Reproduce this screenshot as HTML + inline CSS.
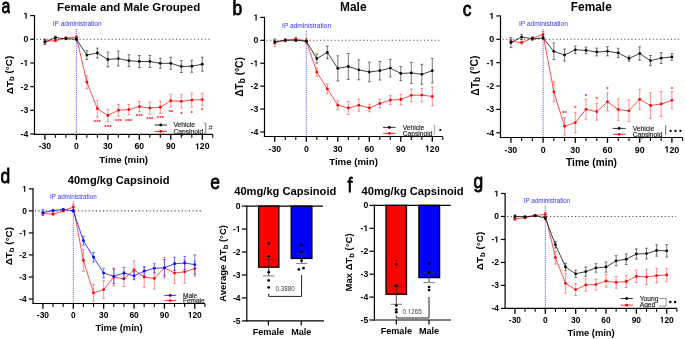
<!DOCTYPE html>
<html><head><meta charset="utf-8"><style>
html,body{margin:0;padding:0;background:#fff;}
svg{display:block;font-family:"Liberation Sans", sans-serif;will-change:transform;}
</style></head><body>
<svg width="685" height="339" viewBox="0 0 685 339">
<defs><clipPath id="clipA" clipPathUnits="userSpaceOnUse"><rect x="-5" y="-20" width="15.9" height="30"/></clipPath></defs>
<rect width="685" height="339" fill="#fff"/>
<line x1="36.5" y1="39.28" x2="210" y2="39.28" stroke="#444" stroke-width="1.05" stroke-dasharray="1.1 2.48"/>
<line x1="76.4" y1="28.8" x2="76.4" y2="134.45" stroke="#4646ff" stroke-width="0.85" stroke-dasharray="1.2 0.9"/>
<text x="52.7" y="25.9" font-size="6.6" font-weight="normal" text-anchor="start" fill="#3333ff">IP administration</text>
<line x1="34.5" y1="15.1" x2="34.5" y2="135.05" stroke="#000" stroke-width="1.2"/>
<line x1="33.9" y1="134.45" x2="212.8" y2="134.45" stroke="#000" stroke-width="1.2"/>
<line x1="30.3" y1="15.6" x2="34.5" y2="15.6" stroke="#000" stroke-width="1.2"/>
<text x="23.46" y="18.64" font-size="8.7" font-weight="bold" fill="#000">&#8199;</text>
<path transform="translate(23.46 18.64) scale(0.00425 -0.00425)" d="M478 0V1170L140 959V1180L493 1409H759V0Z" fill="#000"/>
<line x1="30.3" y1="39.28" x2="34.5" y2="39.28" stroke="#000" stroke-width="1.2"/>
<text x="23.46" y="42.33" font-size="8.7" font-weight="bold" fill="#000">0</text>
<line x1="30.3" y1="62.96" x2="34.5" y2="62.96" stroke="#000" stroke-width="1.2"/>
<text x="20.56" y="66" font-size="8.7" font-weight="bold" fill="#000">-&#8199;</text>
<path transform="translate(23.46 66) scale(0.00425 -0.00425)" d="M478 0V1170L140 959V1180L493 1409H759V0Z" fill="#000"/>
<line x1="30.3" y1="86.64" x2="34.5" y2="86.64" stroke="#000" stroke-width="1.2"/>
<text x="20.56" y="89.69" font-size="8.7" font-weight="bold" fill="#000">-2</text>
<line x1="30.3" y1="110.32" x2="34.5" y2="110.32" stroke="#000" stroke-width="1.2"/>
<text x="20.56" y="113.36" font-size="8.7" font-weight="bold" fill="#000">-3</text>
<line x1="30.3" y1="134" x2="34.5" y2="134" stroke="#000" stroke-width="1.2"/>
<text x="20.56" y="137.04" font-size="8.7" font-weight="bold" fill="#000">-4</text>
<line x1="44.93" y1="134.45" x2="44.93" y2="139.75" stroke="#000" stroke-width="1.3"/>
<text x="38.64" y="149.45" font-size="8.7" font-weight="bold" fill="#000">-30</text>
<line x1="55.42" y1="134.45" x2="55.42" y2="137.85" stroke="#000" stroke-width="1.1"/>
<line x1="65.91" y1="134.45" x2="65.91" y2="137.85" stroke="#000" stroke-width="1.1"/>
<line x1="76.4" y1="134.45" x2="76.4" y2="139.75" stroke="#000" stroke-width="1.3"/>
<text x="73.98" y="149.45" font-size="8.7" font-weight="bold" fill="#000">0</text>
<line x1="86.89" y1="134.45" x2="86.89" y2="137.85" stroke="#000" stroke-width="1.1"/>
<line x1="97.38" y1="134.45" x2="97.38" y2="137.85" stroke="#000" stroke-width="1.1"/>
<line x1="107.87" y1="134.45" x2="107.87" y2="139.75" stroke="#000" stroke-width="1.3"/>
<text x="103.03" y="149.45" font-size="8.7" font-weight="bold" fill="#000">30</text>
<line x1="118.36" y1="134.45" x2="118.36" y2="137.85" stroke="#000" stroke-width="1.1"/>
<line x1="128.85" y1="134.45" x2="128.85" y2="137.85" stroke="#000" stroke-width="1.1"/>
<line x1="139.34" y1="134.45" x2="139.34" y2="139.75" stroke="#000" stroke-width="1.3"/>
<text x="134.5" y="149.45" font-size="8.7" font-weight="bold" fill="#000">60</text>
<line x1="149.83" y1="134.45" x2="149.83" y2="137.85" stroke="#000" stroke-width="1.1"/>
<line x1="160.32" y1="134.45" x2="160.32" y2="137.85" stroke="#000" stroke-width="1.1"/>
<line x1="170.81" y1="134.45" x2="170.81" y2="139.75" stroke="#000" stroke-width="1.3"/>
<text x="165.97" y="149.45" font-size="8.7" font-weight="bold" fill="#000">90</text>
<line x1="181.3" y1="134.45" x2="181.3" y2="137.85" stroke="#000" stroke-width="1.1"/>
<line x1="191.79" y1="134.45" x2="191.79" y2="137.85" stroke="#000" stroke-width="1.1"/>
<line x1="202.28" y1="134.45" x2="202.28" y2="139.75" stroke="#000" stroke-width="1.3"/>
<text x="195.02" y="149.45" font-size="8.7" font-weight="bold" fill="#000">&#8199;20</text>
<path transform="translate(195.02 149.45) scale(0.00425 -0.00425)" d="M478 0V1170L140 959V1180L493 1409H759V0Z" fill="#000"/>
<line x1="212.77" y1="134.45" x2="212.77" y2="137.85" stroke="#000" stroke-width="1.1"/>
<text x="123.65" y="162.95" font-size="9.7" font-weight="bold" text-anchor="middle" fill="#000">Time (min)</text>
<text transform="translate(12.5 75.02) rotate(-90)" x="0" y="0" font-size="9.9" font-weight="bold" text-anchor="middle">&#916;T<tspan font-size="0.8em" dy="0.2em">b</tspan><tspan dy="-0.2em"> (&#176;C)</tspan></text>
<text x="128.7" y="10.9" font-size="11.5" font-weight="bold" text-anchor="middle" fill="#000">Female and Male Grouped</text>
<polyline points="44.93,41.4 55.42,40.6 65.91,38 76.4,37.2 86.89,82.2 97.38,108.7 107.87,115.5 118.36,110.2 128.85,109.6 139.34,106.6 149.83,108.1 160.32,107.2 170.81,100.7 181.3,101.3 191.79,100.1 202.28,99.6" fill="none" stroke="#ff0000" stroke-width="0.7"/>
<line x1="44.93" y1="39.4" x2="44.93" y2="43.4" stroke="#ff0000" stroke-width="0.7" stroke-opacity="0.62"/>
<line x1="43.53" y1="39.4" x2="46.33" y2="39.4" stroke="#ff0000" stroke-width="0.7" stroke-opacity="0.62"/>
<line x1="43.53" y1="43.4" x2="46.33" y2="43.4" stroke="#ff0000" stroke-width="0.7" stroke-opacity="0.62"/>
<line x1="55.42" y1="39.6" x2="55.42" y2="41.6" stroke="#ff0000" stroke-width="0.7" stroke-opacity="0.62"/>
<line x1="54.02" y1="39.6" x2="56.82" y2="39.6" stroke="#ff0000" stroke-width="0.7" stroke-opacity="0.62"/>
<line x1="54.02" y1="41.6" x2="56.82" y2="41.6" stroke="#ff0000" stroke-width="0.7" stroke-opacity="0.62"/>
<line x1="65.91" y1="37" x2="65.91" y2="39" stroke="#ff0000" stroke-width="0.7" stroke-opacity="0.62"/>
<line x1="64.51" y1="37" x2="67.31" y2="37" stroke="#ff0000" stroke-width="0.7" stroke-opacity="0.62"/>
<line x1="64.51" y1="39" x2="67.31" y2="39" stroke="#ff0000" stroke-width="0.7" stroke-opacity="0.62"/>
<line x1="76.4" y1="35.7" x2="76.4" y2="38.7" stroke="#ff0000" stroke-width="0.7" stroke-opacity="0.62"/>
<line x1="75" y1="35.7" x2="77.8" y2="35.7" stroke="#ff0000" stroke-width="0.7" stroke-opacity="0.62"/>
<line x1="75" y1="38.7" x2="77.8" y2="38.7" stroke="#ff0000" stroke-width="0.7" stroke-opacity="0.62"/>
<line x1="86.89" y1="75.6" x2="86.89" y2="88.8" stroke="#ff0000" stroke-width="0.7" stroke-opacity="0.62"/>
<line x1="85.49" y1="75.6" x2="88.29" y2="75.6" stroke="#ff0000" stroke-width="0.7" stroke-opacity="0.62"/>
<line x1="85.49" y1="88.8" x2="88.29" y2="88.8" stroke="#ff0000" stroke-width="0.7" stroke-opacity="0.62"/>
<line x1="97.38" y1="100.3" x2="97.38" y2="117.1" stroke="#ff0000" stroke-width="0.7" stroke-opacity="0.62"/>
<line x1="95.98" y1="100.3" x2="98.78" y2="100.3" stroke="#ff0000" stroke-width="0.7" stroke-opacity="0.62"/>
<line x1="95.98" y1="117.1" x2="98.78" y2="117.1" stroke="#ff0000" stroke-width="0.7" stroke-opacity="0.62"/>
<line x1="107.87" y1="109.6" x2="107.87" y2="121.4" stroke="#ff0000" stroke-width="0.7" stroke-opacity="0.62"/>
<line x1="106.47" y1="109.6" x2="109.27" y2="109.6" stroke="#ff0000" stroke-width="0.7" stroke-opacity="0.62"/>
<line x1="106.47" y1="121.4" x2="109.27" y2="121.4" stroke="#ff0000" stroke-width="0.7" stroke-opacity="0.62"/>
<line x1="118.36" y1="104.3" x2="118.36" y2="116.1" stroke="#ff0000" stroke-width="0.7" stroke-opacity="0.62"/>
<line x1="116.96" y1="104.3" x2="119.76" y2="104.3" stroke="#ff0000" stroke-width="0.7" stroke-opacity="0.62"/>
<line x1="116.96" y1="116.1" x2="119.76" y2="116.1" stroke="#ff0000" stroke-width="0.7" stroke-opacity="0.62"/>
<line x1="128.85" y1="104.4" x2="128.85" y2="114.8" stroke="#ff0000" stroke-width="0.7" stroke-opacity="0.62"/>
<line x1="127.45" y1="104.4" x2="130.25" y2="104.4" stroke="#ff0000" stroke-width="0.7" stroke-opacity="0.62"/>
<line x1="127.45" y1="114.8" x2="130.25" y2="114.8" stroke="#ff0000" stroke-width="0.7" stroke-opacity="0.62"/>
<line x1="139.34" y1="101.4" x2="139.34" y2="111.8" stroke="#ff0000" stroke-width="0.7" stroke-opacity="0.62"/>
<line x1="137.94" y1="101.4" x2="140.74" y2="101.4" stroke="#ff0000" stroke-width="0.7" stroke-opacity="0.62"/>
<line x1="137.94" y1="111.8" x2="140.74" y2="111.8" stroke="#ff0000" stroke-width="0.7" stroke-opacity="0.62"/>
<line x1="149.83" y1="101.9" x2="149.83" y2="114.3" stroke="#ff0000" stroke-width="0.7" stroke-opacity="0.62"/>
<line x1="148.43" y1="101.9" x2="151.23" y2="101.9" stroke="#ff0000" stroke-width="0.7" stroke-opacity="0.62"/>
<line x1="148.43" y1="114.3" x2="151.23" y2="114.3" stroke="#ff0000" stroke-width="0.7" stroke-opacity="0.62"/>
<line x1="160.32" y1="101" x2="160.32" y2="113.4" stroke="#ff0000" stroke-width="0.7" stroke-opacity="0.62"/>
<line x1="158.92" y1="101" x2="161.72" y2="101" stroke="#ff0000" stroke-width="0.7" stroke-opacity="0.62"/>
<line x1="158.92" y1="113.4" x2="161.72" y2="113.4" stroke="#ff0000" stroke-width="0.7" stroke-opacity="0.62"/>
<line x1="170.81" y1="94.2" x2="170.81" y2="107.2" stroke="#ff0000" stroke-width="0.7" stroke-opacity="0.62"/>
<line x1="169.41" y1="94.2" x2="172.21" y2="94.2" stroke="#ff0000" stroke-width="0.7" stroke-opacity="0.62"/>
<line x1="169.41" y1="107.2" x2="172.21" y2="107.2" stroke="#ff0000" stroke-width="0.7" stroke-opacity="0.62"/>
<line x1="181.3" y1="94.7" x2="181.3" y2="107.9" stroke="#ff0000" stroke-width="0.7" stroke-opacity="0.62"/>
<line x1="179.9" y1="94.7" x2="182.7" y2="94.7" stroke="#ff0000" stroke-width="0.7" stroke-opacity="0.62"/>
<line x1="179.9" y1="107.9" x2="182.7" y2="107.9" stroke="#ff0000" stroke-width="0.7" stroke-opacity="0.62"/>
<line x1="191.79" y1="93.1" x2="191.79" y2="107.1" stroke="#ff0000" stroke-width="0.7" stroke-opacity="0.62"/>
<line x1="190.39" y1="93.1" x2="193.19" y2="93.1" stroke="#ff0000" stroke-width="0.7" stroke-opacity="0.62"/>
<line x1="190.39" y1="107.1" x2="193.19" y2="107.1" stroke="#ff0000" stroke-width="0.7" stroke-opacity="0.62"/>
<line x1="202.28" y1="93.3" x2="202.28" y2="105.9" stroke="#ff0000" stroke-width="0.7" stroke-opacity="0.62"/>
<line x1="200.88" y1="93.3" x2="203.68" y2="93.3" stroke="#ff0000" stroke-width="0.7" stroke-opacity="0.62"/>
<line x1="200.88" y1="105.9" x2="203.68" y2="105.9" stroke="#ff0000" stroke-width="0.7" stroke-opacity="0.62"/>
<circle cx="44.93" cy="41.4" r="1.4" fill="#ff0000"/>
<circle cx="55.42" cy="40.6" r="1.4" fill="#ff0000"/>
<circle cx="65.91" cy="38" r="1.4" fill="#ff0000"/>
<circle cx="76.4" cy="37.2" r="1.4" fill="#ff0000"/>
<circle cx="86.89" cy="82.2" r="1.4" fill="#ff0000"/>
<circle cx="97.38" cy="108.7" r="1.4" fill="#ff0000"/>
<circle cx="107.87" cy="115.5" r="1.4" fill="#ff0000"/>
<circle cx="118.36" cy="110.2" r="1.4" fill="#ff0000"/>
<circle cx="128.85" cy="109.6" r="1.4" fill="#ff0000"/>
<circle cx="139.34" cy="106.6" r="1.4" fill="#ff0000"/>
<circle cx="149.83" cy="108.1" r="1.4" fill="#ff0000"/>
<circle cx="160.32" cy="107.2" r="1.4" fill="#ff0000"/>
<circle cx="170.81" cy="100.7" r="1.4" fill="#ff0000"/>
<circle cx="181.3" cy="101.3" r="1.4" fill="#ff0000"/>
<circle cx="191.79" cy="100.1" r="1.4" fill="#ff0000"/>
<circle cx="202.28" cy="99.6" r="1.4" fill="#ff0000"/>
<text x="97.38" y="124.1" font-size="6" font-weight="bold" text-anchor="middle" fill="#ff0000">***</text>
<text x="107.87" y="128.6" font-size="6" font-weight="bold" text-anchor="middle" fill="#ff0000">***</text>
<text x="118.36" y="123.1" font-size="6" font-weight="bold" text-anchor="middle" fill="#ff0000">***</text>
<text x="128.85" y="123.1" font-size="6" font-weight="bold" text-anchor="middle" fill="#ff0000">***</text>
<text x="139.34" y="118.1" font-size="6" font-weight="bold" text-anchor="middle" fill="#ff0000">***</text>
<text x="149.83" y="121.1" font-size="6" font-weight="bold" text-anchor="middle" fill="#ff0000">***</text>
<text x="160.32" y="120.1" font-size="6" font-weight="bold" text-anchor="middle" fill="#ff0000">***</text>
<text x="170.81" y="113.6" font-size="6" font-weight="bold" text-anchor="middle" fill="#ff0000">**</text>
<text x="181.3" y="115.6" font-size="6" font-weight="bold" text-anchor="middle" fill="#ff0000">*</text>
<text x="191.79" y="115.1" font-size="6" font-weight="bold" text-anchor="middle" fill="#ff0000">*</text>
<text x="202.28" y="112.1" font-size="6" font-weight="bold" text-anchor="middle" fill="#ff0000">*</text>
<polyline points="44.93,41.9 55.42,37.7 65.91,38.7 76.4,39.3 86.89,55.05 97.38,53 107.87,59.5 118.36,58.6 128.85,60.65 139.34,61.5 149.83,61.5 160.32,63.3 170.81,63.3 181.3,66.5 191.79,66.25 202.28,64.2" fill="none" stroke="#000" stroke-width="0.75"/>
<line x1="44.93" y1="39.3" x2="44.93" y2="44.5" stroke="#000" stroke-width="0.7" stroke-opacity="0.75"/>
<line x1="43.53" y1="39.3" x2="46.33" y2="39.3" stroke="#000" stroke-width="0.7" stroke-opacity="0.75"/>
<line x1="43.53" y1="44.5" x2="46.33" y2="44.5" stroke="#000" stroke-width="0.7" stroke-opacity="0.75"/>
<line x1="55.42" y1="36.2" x2="55.42" y2="39.2" stroke="#000" stroke-width="0.7" stroke-opacity="0.75"/>
<line x1="54.02" y1="36.2" x2="56.82" y2="36.2" stroke="#000" stroke-width="0.7" stroke-opacity="0.75"/>
<line x1="54.02" y1="39.2" x2="56.82" y2="39.2" stroke="#000" stroke-width="0.7" stroke-opacity="0.75"/>
<line x1="65.91" y1="37.7" x2="65.91" y2="39.7" stroke="#000" stroke-width="0.7" stroke-opacity="0.75"/>
<line x1="64.51" y1="37.7" x2="67.31" y2="37.7" stroke="#000" stroke-width="0.7" stroke-opacity="0.75"/>
<line x1="64.51" y1="39.7" x2="67.31" y2="39.7" stroke="#000" stroke-width="0.7" stroke-opacity="0.75"/>
<line x1="76.4" y1="38.3" x2="76.4" y2="40.3" stroke="#000" stroke-width="0.7" stroke-opacity="0.75"/>
<line x1="75" y1="38.3" x2="77.8" y2="38.3" stroke="#000" stroke-width="0.7" stroke-opacity="0.75"/>
<line x1="75" y1="40.3" x2="77.8" y2="40.3" stroke="#000" stroke-width="0.7" stroke-opacity="0.75"/>
<line x1="86.89" y1="50.65" x2="86.89" y2="59.45" stroke="#000" stroke-width="0.7" stroke-opacity="0.75"/>
<line x1="85.49" y1="50.65" x2="88.29" y2="50.65" stroke="#000" stroke-width="0.7" stroke-opacity="0.75"/>
<line x1="85.49" y1="59.45" x2="88.29" y2="59.45" stroke="#000" stroke-width="0.7" stroke-opacity="0.75"/>
<line x1="97.38" y1="48.1" x2="97.38" y2="57.9" stroke="#000" stroke-width="0.7" stroke-opacity="0.75"/>
<line x1="95.98" y1="48.1" x2="98.78" y2="48.1" stroke="#000" stroke-width="0.7" stroke-opacity="0.75"/>
<line x1="95.98" y1="57.9" x2="98.78" y2="57.9" stroke="#000" stroke-width="0.7" stroke-opacity="0.75"/>
<line x1="107.87" y1="52.1" x2="107.87" y2="66.9" stroke="#000" stroke-width="0.7" stroke-opacity="0.75"/>
<line x1="106.47" y1="52.1" x2="109.27" y2="52.1" stroke="#000" stroke-width="0.7" stroke-opacity="0.75"/>
<line x1="106.47" y1="66.9" x2="109.27" y2="66.9" stroke="#000" stroke-width="0.7" stroke-opacity="0.75"/>
<line x1="118.36" y1="51.2" x2="118.36" y2="66" stroke="#000" stroke-width="0.7" stroke-opacity="0.75"/>
<line x1="116.96" y1="51.2" x2="119.76" y2="51.2" stroke="#000" stroke-width="0.7" stroke-opacity="0.75"/>
<line x1="116.96" y1="66" x2="119.76" y2="66" stroke="#000" stroke-width="0.7" stroke-opacity="0.75"/>
<line x1="128.85" y1="54.65" x2="128.85" y2="66.65" stroke="#000" stroke-width="0.7" stroke-opacity="0.75"/>
<line x1="127.45" y1="54.65" x2="130.25" y2="54.65" stroke="#000" stroke-width="0.7" stroke-opacity="0.75"/>
<line x1="127.45" y1="66.65" x2="130.25" y2="66.65" stroke="#000" stroke-width="0.7" stroke-opacity="0.75"/>
<line x1="139.34" y1="55.5" x2="139.34" y2="67.5" stroke="#000" stroke-width="0.7" stroke-opacity="0.75"/>
<line x1="137.94" y1="55.5" x2="140.74" y2="55.5" stroke="#000" stroke-width="0.7" stroke-opacity="0.75"/>
<line x1="137.94" y1="67.5" x2="140.74" y2="67.5" stroke="#000" stroke-width="0.7" stroke-opacity="0.75"/>
<line x1="149.83" y1="55.5" x2="149.83" y2="67.5" stroke="#000" stroke-width="0.7" stroke-opacity="0.75"/>
<line x1="148.43" y1="55.5" x2="151.23" y2="55.5" stroke="#000" stroke-width="0.7" stroke-opacity="0.75"/>
<line x1="148.43" y1="67.5" x2="151.23" y2="67.5" stroke="#000" stroke-width="0.7" stroke-opacity="0.75"/>
<line x1="160.32" y1="58.3" x2="160.32" y2="68.3" stroke="#000" stroke-width="0.7" stroke-opacity="0.75"/>
<line x1="158.92" y1="58.3" x2="161.72" y2="58.3" stroke="#000" stroke-width="0.7" stroke-opacity="0.75"/>
<line x1="158.92" y1="68.3" x2="161.72" y2="68.3" stroke="#000" stroke-width="0.7" stroke-opacity="0.75"/>
<line x1="170.81" y1="57.3" x2="170.81" y2="69.3" stroke="#000" stroke-width="0.7" stroke-opacity="0.75"/>
<line x1="169.41" y1="57.3" x2="172.21" y2="57.3" stroke="#000" stroke-width="0.7" stroke-opacity="0.75"/>
<line x1="169.41" y1="69.3" x2="172.21" y2="69.3" stroke="#000" stroke-width="0.7" stroke-opacity="0.75"/>
<line x1="181.3" y1="60.5" x2="181.3" y2="72.5" stroke="#000" stroke-width="0.7" stroke-opacity="0.75"/>
<line x1="179.9" y1="60.5" x2="182.7" y2="60.5" stroke="#000" stroke-width="0.7" stroke-opacity="0.75"/>
<line x1="179.9" y1="72.5" x2="182.7" y2="72.5" stroke="#000" stroke-width="0.7" stroke-opacity="0.75"/>
<line x1="191.79" y1="60.25" x2="191.79" y2="72.25" stroke="#000" stroke-width="0.7" stroke-opacity="0.75"/>
<line x1="190.39" y1="60.25" x2="193.19" y2="60.25" stroke="#000" stroke-width="0.7" stroke-opacity="0.75"/>
<line x1="190.39" y1="72.25" x2="193.19" y2="72.25" stroke="#000" stroke-width="0.7" stroke-opacity="0.75"/>
<line x1="202.28" y1="57.2" x2="202.28" y2="71.2" stroke="#000" stroke-width="0.7" stroke-opacity="0.75"/>
<line x1="200.88" y1="57.2" x2="203.68" y2="57.2" stroke="#000" stroke-width="0.7" stroke-opacity="0.75"/>
<line x1="200.88" y1="71.2" x2="203.68" y2="71.2" stroke="#000" stroke-width="0.7" stroke-opacity="0.75"/>
<circle cx="44.93" cy="41.9" r="1.4" fill="#000"/>
<circle cx="55.42" cy="37.7" r="1.4" fill="#000"/>
<circle cx="65.91" cy="38.7" r="1.4" fill="#000"/>
<circle cx="76.4" cy="39.3" r="1.4" fill="#000"/>
<circle cx="86.89" cy="55.05" r="1.4" fill="#000"/>
<circle cx="97.38" cy="53" r="1.4" fill="#000"/>
<circle cx="107.87" cy="59.5" r="1.4" fill="#000"/>
<circle cx="118.36" cy="58.6" r="1.4" fill="#000"/>
<circle cx="128.85" cy="60.65" r="1.4" fill="#000"/>
<circle cx="139.34" cy="61.5" r="1.4" fill="#000"/>
<circle cx="149.83" cy="61.5" r="1.4" fill="#000"/>
<circle cx="160.32" cy="63.3" r="1.4" fill="#000"/>
<circle cx="170.81" cy="63.3" r="1.4" fill="#000"/>
<circle cx="181.3" cy="66.5" r="1.4" fill="#000"/>
<circle cx="191.79" cy="66.25" r="1.4" fill="#000"/>
<circle cx="202.28" cy="64.2" r="1.4" fill="#000"/>
<line x1="154.5" y1="125" x2="167" y2="125" stroke="#000" stroke-width="0.8"/>
<circle cx="160.75" cy="125" r="1.4" fill="#000"/>
<text x="173.5" y="127.2" font-size="6.7" font-weight="normal" text-anchor="start" fill="#1a1a1a" stroke="#1a1a1a" stroke-width="0.15">Vehicle</text>
<line x1="154.5" y1="131.4" x2="167" y2="131.4" stroke="#ff0000" stroke-width="0.8"/>
<circle cx="160.75" cy="131.4" r="1.4" fill="#ff0000"/>
<text x="173.5" y="133.6" font-size="6.7" font-weight="normal" text-anchor="start" fill="#1a1a1a" stroke="#1a1a1a" stroke-width="0.15">Capsinoid</text>
<path d="M204.2 123.3 H205.8 V132.7 H204.2" fill="none" stroke="#555" stroke-width="0.8"/><text x="208.5" y="130.2" font-size="7.6" fill="#333">#</text>
<line x1="266.5" y1="40.32" x2="440" y2="40.32" stroke="#444" stroke-width="1.05" stroke-dasharray="1.1 2.48"/>
<line x1="306.3" y1="31" x2="306.3" y2="136.5" stroke="#4646ff" stroke-width="0.85" stroke-dasharray="1.2 0.9"/>
<text x="282.1" y="28.1" font-size="6.6" font-weight="normal" text-anchor="start" fill="#3333ff">IP administration</text>
<line x1="264.5" y1="16.9" x2="264.5" y2="137.1" stroke="#000" stroke-width="1.2"/>
<line x1="263.9" y1="136.5" x2="442.6" y2="136.5" stroke="#000" stroke-width="1.2"/>
<line x1="260.3" y1="17.4" x2="264.5" y2="17.4" stroke="#000" stroke-width="1.2"/>
<text x="253.46" y="20.44" font-size="8.7" font-weight="bold" fill="#000">&#8199;</text>
<path transform="translate(253.46 20.44) scale(0.00425 -0.00425)" d="M478 0V1170L140 959V1180L493 1409H759V0Z" fill="#000"/>
<line x1="260.3" y1="40.32" x2="264.5" y2="40.32" stroke="#000" stroke-width="1.2"/>
<text x="253.46" y="43.37" font-size="8.7" font-weight="bold" fill="#000">0</text>
<line x1="260.3" y1="63.24" x2="264.5" y2="63.24" stroke="#000" stroke-width="1.2"/>
<text x="250.56" y="66.28" font-size="8.7" font-weight="bold" fill="#000">-&#8199;</text>
<path transform="translate(253.46 66.28) scale(0.00425 -0.00425)" d="M478 0V1170L140 959V1180L493 1409H759V0Z" fill="#000"/>
<line x1="260.3" y1="86.16" x2="264.5" y2="86.16" stroke="#000" stroke-width="1.2"/>
<text x="250.56" y="89.2" font-size="8.7" font-weight="bold" fill="#000">-2</text>
<line x1="260.3" y1="109.08" x2="264.5" y2="109.08" stroke="#000" stroke-width="1.2"/>
<text x="250.56" y="112.13" font-size="8.7" font-weight="bold" fill="#000">-3</text>
<line x1="260.3" y1="132" x2="264.5" y2="132" stroke="#000" stroke-width="1.2"/>
<text x="250.56" y="135.04" font-size="8.7" font-weight="bold" fill="#000">-4</text>
<line x1="274.8" y1="136.5" x2="274.8" y2="141.8" stroke="#000" stroke-width="1.3"/>
<text x="268.51" y="151.5" font-size="8.7" font-weight="bold" fill="#000">-30</text>
<line x1="285.3" y1="136.5" x2="285.3" y2="139.9" stroke="#000" stroke-width="1.1"/>
<line x1="295.8" y1="136.5" x2="295.8" y2="139.9" stroke="#000" stroke-width="1.1"/>
<line x1="306.3" y1="136.5" x2="306.3" y2="141.8" stroke="#000" stroke-width="1.3"/>
<text x="303.88" y="151.5" font-size="8.7" font-weight="bold" fill="#000">0</text>
<line x1="316.8" y1="136.5" x2="316.8" y2="139.9" stroke="#000" stroke-width="1.1"/>
<line x1="327.3" y1="136.5" x2="327.3" y2="139.9" stroke="#000" stroke-width="1.1"/>
<line x1="337.8" y1="136.5" x2="337.8" y2="141.8" stroke="#000" stroke-width="1.3"/>
<text x="332.96" y="151.5" font-size="8.7" font-weight="bold" fill="#000">30</text>
<line x1="348.3" y1="136.5" x2="348.3" y2="139.9" stroke="#000" stroke-width="1.1"/>
<line x1="358.8" y1="136.5" x2="358.8" y2="139.9" stroke="#000" stroke-width="1.1"/>
<line x1="369.3" y1="136.5" x2="369.3" y2="141.8" stroke="#000" stroke-width="1.3"/>
<text x="364.46" y="151.5" font-size="8.7" font-weight="bold" fill="#000">60</text>
<line x1="379.8" y1="136.5" x2="379.8" y2="139.9" stroke="#000" stroke-width="1.1"/>
<line x1="390.3" y1="136.5" x2="390.3" y2="139.9" stroke="#000" stroke-width="1.1"/>
<line x1="400.8" y1="136.5" x2="400.8" y2="141.8" stroke="#000" stroke-width="1.3"/>
<text x="395.96" y="151.5" font-size="8.7" font-weight="bold" fill="#000">90</text>
<line x1="411.3" y1="136.5" x2="411.3" y2="139.9" stroke="#000" stroke-width="1.1"/>
<line x1="421.8" y1="136.5" x2="421.8" y2="139.9" stroke="#000" stroke-width="1.1"/>
<line x1="432.3" y1="136.5" x2="432.3" y2="141.8" stroke="#000" stroke-width="1.3"/>
<text x="425.04" y="151.5" font-size="8.7" font-weight="bold" fill="#000">&#8199;20</text>
<path transform="translate(425.04 151.5) scale(0.00425 -0.00425)" d="M478 0V1170L140 959V1180L493 1409H759V0Z" fill="#000"/>
<line x1="442.8" y1="136.5" x2="442.8" y2="139.9" stroke="#000" stroke-width="1.1"/>
<text x="353.55" y="165" font-size="9.7" font-weight="bold" text-anchor="middle" fill="#000">Time (min)</text>
<text transform="translate(243.2 76.95) rotate(-90)" x="0" y="0" font-size="10.2" font-weight="bold" text-anchor="middle">&#916;T<tspan font-size="0.8em" dy="0.2em">b</tspan><tspan dy="-0.2em"> (&#176;C)</tspan></text>
<text x="353.3" y="10.8" font-size="11.9" font-weight="bold" text-anchor="middle" fill="#000">Male</text>
<polyline points="274.8,42.5 285.3,40.5 295.8,39 306.3,40.9 316.8,72.1 327.3,88.9 337.8,105.2 348.3,108 358.8,105.2 369.3,108 379.8,103.5 390.3,100.1 400.8,99.5 411.3,95.3 421.8,95.1 432.3,96.5" fill="none" stroke="#ff0000" stroke-width="0.7"/>
<line x1="274.8" y1="38.8" x2="274.8" y2="46.2" stroke="#ff0000" stroke-width="0.7" stroke-opacity="0.62"/>
<line x1="273.4" y1="38.8" x2="276.2" y2="38.8" stroke="#ff0000" stroke-width="0.7" stroke-opacity="0.62"/>
<line x1="273.4" y1="46.2" x2="276.2" y2="46.2" stroke="#ff0000" stroke-width="0.7" stroke-opacity="0.62"/>
<line x1="285.3" y1="39" x2="285.3" y2="42" stroke="#ff0000" stroke-width="0.7" stroke-opacity="0.62"/>
<line x1="283.9" y1="39" x2="286.7" y2="39" stroke="#ff0000" stroke-width="0.7" stroke-opacity="0.62"/>
<line x1="283.9" y1="42" x2="286.7" y2="42" stroke="#ff0000" stroke-width="0.7" stroke-opacity="0.62"/>
<line x1="295.8" y1="37" x2="295.8" y2="41" stroke="#ff0000" stroke-width="0.7" stroke-opacity="0.62"/>
<line x1="294.4" y1="37" x2="297.2" y2="37" stroke="#ff0000" stroke-width="0.7" stroke-opacity="0.62"/>
<line x1="294.4" y1="41" x2="297.2" y2="41" stroke="#ff0000" stroke-width="0.7" stroke-opacity="0.62"/>
<line x1="306.3" y1="38.4" x2="306.3" y2="43.4" stroke="#ff0000" stroke-width="0.7" stroke-opacity="0.62"/>
<line x1="304.9" y1="38.4" x2="307.7" y2="38.4" stroke="#ff0000" stroke-width="0.7" stroke-opacity="0.62"/>
<line x1="304.9" y1="43.4" x2="307.7" y2="43.4" stroke="#ff0000" stroke-width="0.7" stroke-opacity="0.62"/>
<line x1="316.8" y1="67.9" x2="316.8" y2="76.3" stroke="#ff0000" stroke-width="0.7" stroke-opacity="0.62"/>
<line x1="315.4" y1="67.9" x2="318.2" y2="67.9" stroke="#ff0000" stroke-width="0.7" stroke-opacity="0.62"/>
<line x1="315.4" y1="76.3" x2="318.2" y2="76.3" stroke="#ff0000" stroke-width="0.7" stroke-opacity="0.62"/>
<line x1="327.3" y1="83.9" x2="327.3" y2="93.9" stroke="#ff0000" stroke-width="0.7" stroke-opacity="0.62"/>
<line x1="325.9" y1="83.9" x2="328.7" y2="83.9" stroke="#ff0000" stroke-width="0.7" stroke-opacity="0.62"/>
<line x1="325.9" y1="93.9" x2="328.7" y2="93.9" stroke="#ff0000" stroke-width="0.7" stroke-opacity="0.62"/>
<line x1="337.8" y1="100.6" x2="337.8" y2="109.8" stroke="#ff0000" stroke-width="0.7" stroke-opacity="0.62"/>
<line x1="336.4" y1="100.6" x2="339.2" y2="100.6" stroke="#ff0000" stroke-width="0.7" stroke-opacity="0.62"/>
<line x1="336.4" y1="109.8" x2="339.2" y2="109.8" stroke="#ff0000" stroke-width="0.7" stroke-opacity="0.62"/>
<line x1="348.3" y1="101.4" x2="348.3" y2="114.6" stroke="#ff0000" stroke-width="0.7" stroke-opacity="0.62"/>
<line x1="346.9" y1="101.4" x2="349.7" y2="101.4" stroke="#ff0000" stroke-width="0.7" stroke-opacity="0.62"/>
<line x1="346.9" y1="114.6" x2="349.7" y2="114.6" stroke="#ff0000" stroke-width="0.7" stroke-opacity="0.62"/>
<line x1="358.8" y1="99.2" x2="358.8" y2="111.2" stroke="#ff0000" stroke-width="0.7" stroke-opacity="0.62"/>
<line x1="357.4" y1="99.2" x2="360.2" y2="99.2" stroke="#ff0000" stroke-width="0.7" stroke-opacity="0.62"/>
<line x1="357.4" y1="111.2" x2="360.2" y2="111.2" stroke="#ff0000" stroke-width="0.7" stroke-opacity="0.62"/>
<line x1="369.3" y1="104.2" x2="369.3" y2="111.8" stroke="#ff0000" stroke-width="0.7" stroke-opacity="0.62"/>
<line x1="367.9" y1="104.2" x2="370.7" y2="104.2" stroke="#ff0000" stroke-width="0.7" stroke-opacity="0.62"/>
<line x1="367.9" y1="111.8" x2="370.7" y2="111.8" stroke="#ff0000" stroke-width="0.7" stroke-opacity="0.62"/>
<line x1="379.8" y1="99.2" x2="379.8" y2="107.8" stroke="#ff0000" stroke-width="0.7" stroke-opacity="0.62"/>
<line x1="378.4" y1="99.2" x2="381.2" y2="99.2" stroke="#ff0000" stroke-width="0.7" stroke-opacity="0.62"/>
<line x1="378.4" y1="107.8" x2="381.2" y2="107.8" stroke="#ff0000" stroke-width="0.7" stroke-opacity="0.62"/>
<line x1="390.3" y1="95.6" x2="390.3" y2="104.6" stroke="#ff0000" stroke-width="0.7" stroke-opacity="0.62"/>
<line x1="388.9" y1="95.6" x2="391.7" y2="95.6" stroke="#ff0000" stroke-width="0.7" stroke-opacity="0.62"/>
<line x1="388.9" y1="104.6" x2="391.7" y2="104.6" stroke="#ff0000" stroke-width="0.7" stroke-opacity="0.62"/>
<line x1="400.8" y1="94.2" x2="400.8" y2="104.8" stroke="#ff0000" stroke-width="0.7" stroke-opacity="0.62"/>
<line x1="399.4" y1="94.2" x2="402.2" y2="94.2" stroke="#ff0000" stroke-width="0.7" stroke-opacity="0.62"/>
<line x1="399.4" y1="104.8" x2="402.2" y2="104.8" stroke="#ff0000" stroke-width="0.7" stroke-opacity="0.62"/>
<line x1="411.3" y1="89" x2="411.3" y2="101.6" stroke="#ff0000" stroke-width="0.7" stroke-opacity="0.62"/>
<line x1="409.9" y1="89" x2="412.7" y2="89" stroke="#ff0000" stroke-width="0.7" stroke-opacity="0.62"/>
<line x1="409.9" y1="101.6" x2="412.7" y2="101.6" stroke="#ff0000" stroke-width="0.7" stroke-opacity="0.62"/>
<line x1="421.8" y1="88.4" x2="421.8" y2="101.8" stroke="#ff0000" stroke-width="0.7" stroke-opacity="0.62"/>
<line x1="420.4" y1="88.4" x2="423.2" y2="88.4" stroke="#ff0000" stroke-width="0.7" stroke-opacity="0.62"/>
<line x1="420.4" y1="101.8" x2="423.2" y2="101.8" stroke="#ff0000" stroke-width="0.7" stroke-opacity="0.62"/>
<line x1="432.3" y1="87.1" x2="432.3" y2="105.9" stroke="#ff0000" stroke-width="0.7" stroke-opacity="0.62"/>
<line x1="430.9" y1="87.1" x2="433.7" y2="87.1" stroke="#ff0000" stroke-width="0.7" stroke-opacity="0.62"/>
<line x1="430.9" y1="105.9" x2="433.7" y2="105.9" stroke="#ff0000" stroke-width="0.7" stroke-opacity="0.62"/>
<circle cx="274.8" cy="42.5" r="1.4" fill="#ff0000"/>
<circle cx="285.3" cy="40.5" r="1.4" fill="#ff0000"/>
<circle cx="295.8" cy="39" r="1.4" fill="#ff0000"/>
<circle cx="306.3" cy="40.9" r="1.4" fill="#ff0000"/>
<circle cx="316.8" cy="72.1" r="1.4" fill="#ff0000"/>
<circle cx="327.3" cy="88.9" r="1.4" fill="#ff0000"/>
<circle cx="337.8" cy="105.2" r="1.4" fill="#ff0000"/>
<circle cx="348.3" cy="108" r="1.4" fill="#ff0000"/>
<circle cx="358.8" cy="105.2" r="1.4" fill="#ff0000"/>
<circle cx="369.3" cy="108" r="1.4" fill="#ff0000"/>
<circle cx="379.8" cy="103.5" r="1.4" fill="#ff0000"/>
<circle cx="390.3" cy="100.1" r="1.4" fill="#ff0000"/>
<circle cx="400.8" cy="99.5" r="1.4" fill="#ff0000"/>
<circle cx="411.3" cy="95.3" r="1.4" fill="#ff0000"/>
<circle cx="421.8" cy="95.1" r="1.4" fill="#ff0000"/>
<circle cx="432.3" cy="96.5" r="1.4" fill="#ff0000"/>
<polyline points="274.8,41.9 285.3,40.1 295.8,40.3 306.3,41.2 316.8,58.6 327.3,52.4 337.8,68.4 348.3,66.5 358.8,69.8 369.3,72 379.8,70.7 390.3,68.1 400.8,73.5 411.3,72.9 421.8,74.3 432.3,70.7" fill="none" stroke="#000" stroke-width="0.75"/>
<line x1="274.8" y1="39.9" x2="274.8" y2="43.9" stroke="#000" stroke-width="0.7" stroke-opacity="0.75"/>
<line x1="273.4" y1="39.9" x2="276.2" y2="39.9" stroke="#000" stroke-width="0.7" stroke-opacity="0.75"/>
<line x1="273.4" y1="43.9" x2="276.2" y2="43.9" stroke="#000" stroke-width="0.7" stroke-opacity="0.75"/>
<line x1="285.3" y1="39.1" x2="285.3" y2="41.1" stroke="#000" stroke-width="0.7" stroke-opacity="0.75"/>
<line x1="283.9" y1="39.1" x2="286.7" y2="39.1" stroke="#000" stroke-width="0.7" stroke-opacity="0.75"/>
<line x1="283.9" y1="41.1" x2="286.7" y2="41.1" stroke="#000" stroke-width="0.7" stroke-opacity="0.75"/>
<line x1="295.8" y1="39.3" x2="295.8" y2="41.3" stroke="#000" stroke-width="0.7" stroke-opacity="0.75"/>
<line x1="294.4" y1="39.3" x2="297.2" y2="39.3" stroke="#000" stroke-width="0.7" stroke-opacity="0.75"/>
<line x1="294.4" y1="41.3" x2="297.2" y2="41.3" stroke="#000" stroke-width="0.7" stroke-opacity="0.75"/>
<line x1="306.3" y1="40.2" x2="306.3" y2="42.2" stroke="#000" stroke-width="0.7" stroke-opacity="0.75"/>
<line x1="304.9" y1="40.2" x2="307.7" y2="40.2" stroke="#000" stroke-width="0.7" stroke-opacity="0.75"/>
<line x1="304.9" y1="42.2" x2="307.7" y2="42.2" stroke="#000" stroke-width="0.7" stroke-opacity="0.75"/>
<line x1="316.8" y1="54" x2="316.8" y2="63.2" stroke="#000" stroke-width="0.7" stroke-opacity="0.75"/>
<line x1="315.4" y1="54" x2="318.2" y2="54" stroke="#000" stroke-width="0.7" stroke-opacity="0.75"/>
<line x1="315.4" y1="63.2" x2="318.2" y2="63.2" stroke="#000" stroke-width="0.7" stroke-opacity="0.75"/>
<line x1="327.3" y1="46.1" x2="327.3" y2="58.7" stroke="#000" stroke-width="0.7" stroke-opacity="0.75"/>
<line x1="325.9" y1="46.1" x2="328.7" y2="46.1" stroke="#000" stroke-width="0.7" stroke-opacity="0.75"/>
<line x1="325.9" y1="58.7" x2="328.7" y2="58.7" stroke="#000" stroke-width="0.7" stroke-opacity="0.75"/>
<line x1="337.8" y1="55.8" x2="337.8" y2="81" stroke="#000" stroke-width="0.7" stroke-opacity="0.75"/>
<line x1="336.4" y1="55.8" x2="339.2" y2="55.8" stroke="#000" stroke-width="0.7" stroke-opacity="0.75"/>
<line x1="336.4" y1="81" x2="339.2" y2="81" stroke="#000" stroke-width="0.7" stroke-opacity="0.75"/>
<line x1="348.3" y1="53.5" x2="348.3" y2="79.5" stroke="#000" stroke-width="0.7" stroke-opacity="0.75"/>
<line x1="346.9" y1="53.5" x2="349.7" y2="53.5" stroke="#000" stroke-width="0.7" stroke-opacity="0.75"/>
<line x1="346.9" y1="79.5" x2="349.7" y2="79.5" stroke="#000" stroke-width="0.7" stroke-opacity="0.75"/>
<line x1="358.8" y1="59.8" x2="358.8" y2="79.8" stroke="#000" stroke-width="0.7" stroke-opacity="0.75"/>
<line x1="357.4" y1="59.8" x2="360.2" y2="59.8" stroke="#000" stroke-width="0.7" stroke-opacity="0.75"/>
<line x1="357.4" y1="79.8" x2="360.2" y2="79.8" stroke="#000" stroke-width="0.7" stroke-opacity="0.75"/>
<line x1="369.3" y1="62.2" x2="369.3" y2="81.8" stroke="#000" stroke-width="0.7" stroke-opacity="0.75"/>
<line x1="367.9" y1="62.2" x2="370.7" y2="62.2" stroke="#000" stroke-width="0.7" stroke-opacity="0.75"/>
<line x1="367.9" y1="81.8" x2="370.7" y2="81.8" stroke="#000" stroke-width="0.7" stroke-opacity="0.75"/>
<line x1="379.8" y1="61.4" x2="379.8" y2="80" stroke="#000" stroke-width="0.7" stroke-opacity="0.75"/>
<line x1="378.4" y1="61.4" x2="381.2" y2="61.4" stroke="#000" stroke-width="0.7" stroke-opacity="0.75"/>
<line x1="378.4" y1="80" x2="381.2" y2="80" stroke="#000" stroke-width="0.7" stroke-opacity="0.75"/>
<line x1="390.3" y1="59.3" x2="390.3" y2="76.9" stroke="#000" stroke-width="0.7" stroke-opacity="0.75"/>
<line x1="388.9" y1="59.3" x2="391.7" y2="59.3" stroke="#000" stroke-width="0.7" stroke-opacity="0.75"/>
<line x1="388.9" y1="76.9" x2="391.7" y2="76.9" stroke="#000" stroke-width="0.7" stroke-opacity="0.75"/>
<line x1="400.8" y1="66.5" x2="400.8" y2="80.5" stroke="#000" stroke-width="0.7" stroke-opacity="0.75"/>
<line x1="399.4" y1="66.5" x2="402.2" y2="66.5" stroke="#000" stroke-width="0.7" stroke-opacity="0.75"/>
<line x1="399.4" y1="80.5" x2="402.2" y2="80.5" stroke="#000" stroke-width="0.7" stroke-opacity="0.75"/>
<line x1="411.3" y1="62.4" x2="411.3" y2="83.4" stroke="#000" stroke-width="0.7" stroke-opacity="0.75"/>
<line x1="409.9" y1="62.4" x2="412.7" y2="62.4" stroke="#000" stroke-width="0.7" stroke-opacity="0.75"/>
<line x1="409.9" y1="83.4" x2="412.7" y2="83.4" stroke="#000" stroke-width="0.7" stroke-opacity="0.75"/>
<line x1="421.8" y1="64.3" x2="421.8" y2="84.3" stroke="#000" stroke-width="0.7" stroke-opacity="0.75"/>
<line x1="420.4" y1="64.3" x2="423.2" y2="64.3" stroke="#000" stroke-width="0.7" stroke-opacity="0.75"/>
<line x1="420.4" y1="84.3" x2="423.2" y2="84.3" stroke="#000" stroke-width="0.7" stroke-opacity="0.75"/>
<line x1="432.3" y1="58.4" x2="432.3" y2="83" stroke="#000" stroke-width="0.7" stroke-opacity="0.75"/>
<line x1="430.9" y1="58.4" x2="433.7" y2="58.4" stroke="#000" stroke-width="0.7" stroke-opacity="0.75"/>
<line x1="430.9" y1="83" x2="433.7" y2="83" stroke="#000" stroke-width="0.7" stroke-opacity="0.75"/>
<circle cx="274.8" cy="41.9" r="1.4" fill="#000"/>
<circle cx="285.3" cy="40.1" r="1.4" fill="#000"/>
<circle cx="295.8" cy="40.3" r="1.4" fill="#000"/>
<circle cx="306.3" cy="41.2" r="1.4" fill="#000"/>
<circle cx="316.8" cy="58.6" r="1.4" fill="#000"/>
<circle cx="327.3" cy="52.4" r="1.4" fill="#000"/>
<circle cx="337.8" cy="68.4" r="1.4" fill="#000"/>
<circle cx="348.3" cy="66.5" r="1.4" fill="#000"/>
<circle cx="358.8" cy="69.8" r="1.4" fill="#000"/>
<circle cx="369.3" cy="72" r="1.4" fill="#000"/>
<circle cx="379.8" cy="70.7" r="1.4" fill="#000"/>
<circle cx="390.3" cy="68.1" r="1.4" fill="#000"/>
<circle cx="400.8" cy="73.5" r="1.4" fill="#000"/>
<circle cx="411.3" cy="72.9" r="1.4" fill="#000"/>
<circle cx="421.8" cy="74.3" r="1.4" fill="#000"/>
<circle cx="432.3" cy="70.7" r="1.4" fill="#000"/>
<line x1="383" y1="127.4" x2="395.6" y2="127.4" stroke="#000" stroke-width="0.8"/>
<circle cx="389.3" cy="127.4" r="1.4" fill="#000"/>
<text x="402.7" y="129.6" font-size="6.7" font-weight="normal" text-anchor="start" fill="#1a1a1a" stroke="#1a1a1a" stroke-width="0.15">Vehicle</text>
<line x1="383" y1="133.4" x2="395.6" y2="133.4" stroke="#ff0000" stroke-width="0.8"/>
<circle cx="389.3" cy="133.4" r="1.4" fill="#ff0000"/>
<text x="402.7" y="135.6" font-size="6.7" font-weight="normal" text-anchor="start" fill="#1a1a1a" stroke="#1a1a1a" stroke-width="0.15">Capsinoid</text>
<path d="M433.7 125.1 H434.7 V134.3 H433.7" fill="none" stroke="#999" stroke-width="0.9"/><circle cx="440.3" cy="130" r="1.1"/>
<line x1="502.5" y1="39.3" x2="681" y2="39.3" stroke="#444" stroke-width="1.05" stroke-dasharray="1.1 2.48"/>
<line x1="543.1" y1="29" x2="543.1" y2="137.5" stroke="#4646ff" stroke-width="0.85" stroke-dasharray="1.2 0.9"/>
<text x="518.9" y="26.1" font-size="6.6" font-weight="normal" text-anchor="start" fill="#3333ff">IP administration</text>
<line x1="500.5" y1="15.5" x2="500.5" y2="138.1" stroke="#000" stroke-width="1.2"/>
<line x1="499.9" y1="137.5" x2="682.6" y2="137.5" stroke="#000" stroke-width="1.2"/>
<line x1="496.3" y1="15.94" x2="500.5" y2="15.94" stroke="#000" stroke-width="1.2"/>
<text x="489.35" y="19.05" font-size="8.9" font-weight="bold" fill="#000">&#8199;</text>
<path transform="translate(489.35 19.05) scale(0.00435 -0.00435)" d="M478 0V1170L140 959V1180L493 1409H759V0Z" fill="#000"/>
<line x1="496.3" y1="39.3" x2="500.5" y2="39.3" stroke="#000" stroke-width="1.2"/>
<text x="489.35" y="42.41" font-size="8.9" font-weight="bold" fill="#000">0</text>
<line x1="496.3" y1="62.66" x2="500.5" y2="62.66" stroke="#000" stroke-width="1.2"/>
<text x="486.39" y="65.77" font-size="8.9" font-weight="bold" fill="#000">-&#8199;</text>
<path transform="translate(489.35 65.77) scale(0.00435 -0.00435)" d="M478 0V1170L140 959V1180L493 1409H759V0Z" fill="#000"/>
<line x1="496.3" y1="86.02" x2="500.5" y2="86.02" stroke="#000" stroke-width="1.2"/>
<text x="486.39" y="89.13" font-size="8.9" font-weight="bold" fill="#000">-2</text>
<line x1="496.3" y1="109.38" x2="500.5" y2="109.38" stroke="#000" stroke-width="1.2"/>
<text x="486.39" y="112.49" font-size="8.9" font-weight="bold" fill="#000">-3</text>
<line x1="496.3" y1="132.74" x2="500.5" y2="132.74" stroke="#000" stroke-width="1.2"/>
<text x="486.39" y="135.86" font-size="8.9" font-weight="bold" fill="#000">-4</text>
<line x1="510.9" y1="137.5" x2="510.9" y2="142.8" stroke="#000" stroke-width="1.3"/>
<text x="504.47" y="152.5" font-size="8.9" font-weight="bold" fill="#000">-30</text>
<line x1="521.63" y1="137.5" x2="521.63" y2="140.9" stroke="#000" stroke-width="1.1"/>
<line x1="532.37" y1="137.5" x2="532.37" y2="140.9" stroke="#000" stroke-width="1.1"/>
<line x1="543.1" y1="137.5" x2="543.1" y2="142.8" stroke="#000" stroke-width="1.3"/>
<text x="540.63" y="152.5" font-size="8.9" font-weight="bold" fill="#000">0</text>
<line x1="553.83" y1="137.5" x2="553.83" y2="140.9" stroke="#000" stroke-width="1.1"/>
<line x1="564.57" y1="137.5" x2="564.57" y2="140.9" stroke="#000" stroke-width="1.1"/>
<line x1="575.3" y1="137.5" x2="575.3" y2="142.8" stroke="#000" stroke-width="1.3"/>
<text x="570.35" y="152.5" font-size="8.9" font-weight="bold" fill="#000">30</text>
<line x1="586.03" y1="137.5" x2="586.03" y2="140.9" stroke="#000" stroke-width="1.1"/>
<line x1="596.76" y1="137.5" x2="596.76" y2="140.9" stroke="#000" stroke-width="1.1"/>
<line x1="607.5" y1="137.5" x2="607.5" y2="142.8" stroke="#000" stroke-width="1.3"/>
<text x="602.55" y="152.5" font-size="8.9" font-weight="bold" fill="#000">60</text>
<line x1="618.23" y1="137.5" x2="618.23" y2="140.9" stroke="#000" stroke-width="1.1"/>
<line x1="628.96" y1="137.5" x2="628.96" y2="140.9" stroke="#000" stroke-width="1.1"/>
<line x1="639.7" y1="137.5" x2="639.7" y2="142.8" stroke="#000" stroke-width="1.3"/>
<text x="634.75" y="152.5" font-size="8.9" font-weight="bold" fill="#000">90</text>
<line x1="650.43" y1="137.5" x2="650.43" y2="140.9" stroke="#000" stroke-width="1.1"/>
<line x1="661.16" y1="137.5" x2="661.16" y2="140.9" stroke="#000" stroke-width="1.1"/>
<line x1="671.9" y1="137.5" x2="671.9" y2="142.8" stroke="#000" stroke-width="1.3"/>
<text x="664.47" y="152.5" font-size="8.9" font-weight="bold" fill="#000">&#8199;20</text>
<path transform="translate(664.47 152.5) scale(0.00435 -0.00435)" d="M478 0V1170L140 959V1180L493 1409H759V0Z" fill="#000"/>
<line x1="682.63" y1="137.5" x2="682.63" y2="140.9" stroke="#000" stroke-width="1.1"/>
<text x="591.55" y="166" font-size="10.1" font-weight="bold" text-anchor="middle" fill="#000">Time (min)</text>
<text transform="translate(478.6 75.6) rotate(-90)" x="0" y="0" font-size="10.4" font-weight="bold" text-anchor="middle">&#916;T<tspan font-size="0.8em" dy="0.2em">b</tspan><tspan dy="-0.2em"> (&#176;C)</tspan></text>
<text x="591.3" y="10.9" font-size="11.9" font-weight="bold" text-anchor="middle" fill="#000">Female</text>
<polyline points="510.9,41.4 521.63,42.6 532.37,38.1 543.1,34.6 553.83,91.8 564.57,126.3 575.3,122.6 586.03,109.3 596.76,111.7 607.5,101.8 618.23,109.6 628.96,110.8 639.7,99.3 650.43,105.5 661.16,104 671.9,100.3" fill="none" stroke="#ff0000" stroke-width="0.7"/>
<line x1="510.9" y1="39.4" x2="510.9" y2="43.4" stroke="#ff0000" stroke-width="0.7" stroke-opacity="0.62"/>
<line x1="509.5" y1="39.4" x2="512.3" y2="39.4" stroke="#ff0000" stroke-width="0.7" stroke-opacity="0.62"/>
<line x1="509.5" y1="43.4" x2="512.3" y2="43.4" stroke="#ff0000" stroke-width="0.7" stroke-opacity="0.62"/>
<line x1="521.63" y1="41.1" x2="521.63" y2="44.1" stroke="#ff0000" stroke-width="0.7" stroke-opacity="0.62"/>
<line x1="520.23" y1="41.1" x2="523.03" y2="41.1" stroke="#ff0000" stroke-width="0.7" stroke-opacity="0.62"/>
<line x1="520.23" y1="44.1" x2="523.03" y2="44.1" stroke="#ff0000" stroke-width="0.7" stroke-opacity="0.62"/>
<line x1="532.37" y1="36.9" x2="532.37" y2="39.3" stroke="#ff0000" stroke-width="0.7" stroke-opacity="0.62"/>
<line x1="530.97" y1="36.9" x2="533.77" y2="36.9" stroke="#ff0000" stroke-width="0.7" stroke-opacity="0.62"/>
<line x1="530.97" y1="39.3" x2="533.77" y2="39.3" stroke="#ff0000" stroke-width="0.7" stroke-opacity="0.62"/>
<line x1="543.1" y1="31.6" x2="543.1" y2="37.6" stroke="#ff0000" stroke-width="0.7" stroke-opacity="0.62"/>
<line x1="541.7" y1="31.6" x2="544.5" y2="31.6" stroke="#ff0000" stroke-width="0.7" stroke-opacity="0.62"/>
<line x1="541.7" y1="37.6" x2="544.5" y2="37.6" stroke="#ff0000" stroke-width="0.7" stroke-opacity="0.62"/>
<line x1="553.83" y1="81.8" x2="553.83" y2="101.8" stroke="#ff0000" stroke-width="0.7" stroke-opacity="0.62"/>
<line x1="552.43" y1="81.8" x2="555.23" y2="81.8" stroke="#ff0000" stroke-width="0.7" stroke-opacity="0.62"/>
<line x1="552.43" y1="101.8" x2="555.23" y2="101.8" stroke="#ff0000" stroke-width="0.7" stroke-opacity="0.62"/>
<line x1="564.57" y1="117.5" x2="564.57" y2="135.1" stroke="#ff0000" stroke-width="0.7" stroke-opacity="0.62"/>
<line x1="563.17" y1="117.5" x2="565.97" y2="117.5" stroke="#ff0000" stroke-width="0.7" stroke-opacity="0.62"/>
<line x1="563.17" y1="135.1" x2="565.97" y2="135.1" stroke="#ff0000" stroke-width="0.7" stroke-opacity="0.62"/>
<line x1="575.3" y1="112.6" x2="575.3" y2="132.6" stroke="#ff0000" stroke-width="0.7" stroke-opacity="0.62"/>
<line x1="573.9" y1="112.6" x2="576.7" y2="112.6" stroke="#ff0000" stroke-width="0.7" stroke-opacity="0.62"/>
<line x1="573.9" y1="132.6" x2="576.7" y2="132.6" stroke="#ff0000" stroke-width="0.7" stroke-opacity="0.62"/>
<line x1="586.03" y1="99.3" x2="586.03" y2="119.3" stroke="#ff0000" stroke-width="0.7" stroke-opacity="0.62"/>
<line x1="584.63" y1="99.3" x2="587.43" y2="99.3" stroke="#ff0000" stroke-width="0.7" stroke-opacity="0.62"/>
<line x1="584.63" y1="119.3" x2="587.43" y2="119.3" stroke="#ff0000" stroke-width="0.7" stroke-opacity="0.62"/>
<line x1="596.76" y1="103.2" x2="596.76" y2="120.2" stroke="#ff0000" stroke-width="0.7" stroke-opacity="0.62"/>
<line x1="595.37" y1="103.2" x2="598.16" y2="103.2" stroke="#ff0000" stroke-width="0.7" stroke-opacity="0.62"/>
<line x1="595.37" y1="120.2" x2="598.16" y2="120.2" stroke="#ff0000" stroke-width="0.7" stroke-opacity="0.62"/>
<line x1="607.5" y1="92.8" x2="607.5" y2="110.8" stroke="#ff0000" stroke-width="0.7" stroke-opacity="0.62"/>
<line x1="606.1" y1="92.8" x2="608.9" y2="92.8" stroke="#ff0000" stroke-width="0.7" stroke-opacity="0.62"/>
<line x1="606.1" y1="110.8" x2="608.9" y2="110.8" stroke="#ff0000" stroke-width="0.7" stroke-opacity="0.62"/>
<line x1="618.23" y1="98.8" x2="618.23" y2="120.4" stroke="#ff0000" stroke-width="0.7" stroke-opacity="0.62"/>
<line x1="616.83" y1="98.8" x2="619.63" y2="98.8" stroke="#ff0000" stroke-width="0.7" stroke-opacity="0.62"/>
<line x1="616.83" y1="120.4" x2="619.63" y2="120.4" stroke="#ff0000" stroke-width="0.7" stroke-opacity="0.62"/>
<line x1="628.96" y1="100" x2="628.96" y2="121.6" stroke="#ff0000" stroke-width="0.7" stroke-opacity="0.62"/>
<line x1="627.56" y1="100" x2="630.36" y2="100" stroke="#ff0000" stroke-width="0.7" stroke-opacity="0.62"/>
<line x1="627.56" y1="121.6" x2="630.36" y2="121.6" stroke="#ff0000" stroke-width="0.7" stroke-opacity="0.62"/>
<line x1="639.7" y1="89.3" x2="639.7" y2="109.3" stroke="#ff0000" stroke-width="0.7" stroke-opacity="0.62"/>
<line x1="638.3" y1="89.3" x2="641.1" y2="89.3" stroke="#ff0000" stroke-width="0.7" stroke-opacity="0.62"/>
<line x1="638.3" y1="109.3" x2="641.1" y2="109.3" stroke="#ff0000" stroke-width="0.7" stroke-opacity="0.62"/>
<line x1="650.43" y1="92.7" x2="650.43" y2="118.3" stroke="#ff0000" stroke-width="0.7" stroke-opacity="0.62"/>
<line x1="649.03" y1="92.7" x2="651.83" y2="92.7" stroke="#ff0000" stroke-width="0.7" stroke-opacity="0.62"/>
<line x1="649.03" y1="118.3" x2="651.83" y2="118.3" stroke="#ff0000" stroke-width="0.7" stroke-opacity="0.62"/>
<line x1="661.16" y1="91.6" x2="661.16" y2="116.4" stroke="#ff0000" stroke-width="0.7" stroke-opacity="0.62"/>
<line x1="659.76" y1="91.6" x2="662.56" y2="91.6" stroke="#ff0000" stroke-width="0.7" stroke-opacity="0.62"/>
<line x1="659.76" y1="116.4" x2="662.56" y2="116.4" stroke="#ff0000" stroke-width="0.7" stroke-opacity="0.62"/>
<line x1="671.9" y1="91.8" x2="671.9" y2="108.8" stroke="#ff0000" stroke-width="0.7" stroke-opacity="0.62"/>
<line x1="670.5" y1="91.8" x2="673.3" y2="91.8" stroke="#ff0000" stroke-width="0.7" stroke-opacity="0.62"/>
<line x1="670.5" y1="108.8" x2="673.3" y2="108.8" stroke="#ff0000" stroke-width="0.7" stroke-opacity="0.62"/>
<circle cx="510.9" cy="41.4" r="1.4" fill="#ff0000"/>
<circle cx="521.63" cy="42.6" r="1.4" fill="#ff0000"/>
<circle cx="532.37" cy="38.1" r="1.4" fill="#ff0000"/>
<circle cx="543.1" cy="34.6" r="1.4" fill="#ff0000"/>
<circle cx="553.83" cy="91.8" r="1.4" fill="#ff0000"/>
<circle cx="564.57" cy="126.3" r="1.4" fill="#ff0000"/>
<circle cx="575.3" cy="122.6" r="1.4" fill="#ff0000"/>
<circle cx="586.03" cy="109.3" r="1.4" fill="#ff0000"/>
<circle cx="596.76" cy="111.7" r="1.4" fill="#ff0000"/>
<circle cx="607.5" cy="101.8" r="1.4" fill="#ff0000"/>
<circle cx="618.23" cy="109.6" r="1.4" fill="#ff0000"/>
<circle cx="628.96" cy="110.8" r="1.4" fill="#ff0000"/>
<circle cx="639.7" cy="99.3" r="1.4" fill="#ff0000"/>
<circle cx="650.43" cy="105.5" r="1.4" fill="#ff0000"/>
<circle cx="661.16" cy="104" r="1.4" fill="#ff0000"/>
<circle cx="671.9" cy="100.3" r="1.4" fill="#ff0000"/>
<text x="564.57" y="114.5" font-size="6" font-weight="bold" text-anchor="middle" fill="#ff0000">**</text>
<text x="575.3" y="110" font-size="6" font-weight="bold" text-anchor="middle" fill="#ff0000">*</text>
<text x="586.03" y="97.5" font-size="6" font-weight="bold" text-anchor="middle" fill="#ff0000">*</text>
<text x="596.76" y="100.5" font-size="6" font-weight="bold" text-anchor="middle" fill="#ff0000">*</text>
<text x="607.5" y="91" font-size="6" font-weight="bold" text-anchor="middle" fill="#ff0000">*</text>
<text x="671.9" y="91.3" font-size="6" font-weight="bold" text-anchor="middle" fill="#ff0000">*</text>
<polyline points="510.9,42.6 521.63,37.1 532.37,38.8 543.1,38 553.83,51.3 564.57,55 575.3,49.8 586.03,50.4 596.76,52 607.5,51.3 618.23,52.9 628.96,58.5 639.7,53.5 650.43,60.6 661.16,58.1 671.9,56.9" fill="none" stroke="#000" stroke-width="0.75"/>
<line x1="510.9" y1="37.6" x2="510.9" y2="47.6" stroke="#000" stroke-width="0.7" stroke-opacity="0.75"/>
<line x1="509.5" y1="37.6" x2="512.3" y2="37.6" stroke="#000" stroke-width="0.7" stroke-opacity="0.75"/>
<line x1="509.5" y1="47.6" x2="512.3" y2="47.6" stroke="#000" stroke-width="0.7" stroke-opacity="0.75"/>
<line x1="521.63" y1="34.6" x2="521.63" y2="39.6" stroke="#000" stroke-width="0.7" stroke-opacity="0.75"/>
<line x1="520.23" y1="34.6" x2="523.03" y2="34.6" stroke="#000" stroke-width="0.7" stroke-opacity="0.75"/>
<line x1="520.23" y1="39.6" x2="523.03" y2="39.6" stroke="#000" stroke-width="0.7" stroke-opacity="0.75"/>
<line x1="532.37" y1="37.3" x2="532.37" y2="40.3" stroke="#000" stroke-width="0.7" stroke-opacity="0.75"/>
<line x1="530.97" y1="37.3" x2="533.77" y2="37.3" stroke="#000" stroke-width="0.7" stroke-opacity="0.75"/>
<line x1="530.97" y1="40.3" x2="533.77" y2="40.3" stroke="#000" stroke-width="0.7" stroke-opacity="0.75"/>
<line x1="543.1" y1="37" x2="543.1" y2="39" stroke="#000" stroke-width="0.7" stroke-opacity="0.75"/>
<line x1="541.7" y1="37" x2="544.5" y2="37" stroke="#000" stroke-width="0.7" stroke-opacity="0.75"/>
<line x1="541.7" y1="39" x2="544.5" y2="39" stroke="#000" stroke-width="0.7" stroke-opacity="0.75"/>
<line x1="553.83" y1="42.9" x2="553.83" y2="59.7" stroke="#000" stroke-width="0.7" stroke-opacity="0.75"/>
<line x1="552.43" y1="42.9" x2="555.23" y2="42.9" stroke="#000" stroke-width="0.7" stroke-opacity="0.75"/>
<line x1="552.43" y1="59.7" x2="555.23" y2="59.7" stroke="#000" stroke-width="0.7" stroke-opacity="0.75"/>
<line x1="564.57" y1="49" x2="564.57" y2="61" stroke="#000" stroke-width="0.7" stroke-opacity="0.75"/>
<line x1="563.17" y1="49" x2="565.97" y2="49" stroke="#000" stroke-width="0.7" stroke-opacity="0.75"/>
<line x1="563.17" y1="61" x2="565.97" y2="61" stroke="#000" stroke-width="0.7" stroke-opacity="0.75"/>
<line x1="575.3" y1="46.1" x2="575.3" y2="53.5" stroke="#000" stroke-width="0.7" stroke-opacity="0.75"/>
<line x1="573.9" y1="46.1" x2="576.7" y2="46.1" stroke="#000" stroke-width="0.7" stroke-opacity="0.75"/>
<line x1="573.9" y1="53.5" x2="576.7" y2="53.5" stroke="#000" stroke-width="0.7" stroke-opacity="0.75"/>
<line x1="586.03" y1="47.1" x2="586.03" y2="53.7" stroke="#000" stroke-width="0.7" stroke-opacity="0.75"/>
<line x1="584.63" y1="47.1" x2="587.43" y2="47.1" stroke="#000" stroke-width="0.7" stroke-opacity="0.75"/>
<line x1="584.63" y1="53.7" x2="587.43" y2="53.7" stroke="#000" stroke-width="0.7" stroke-opacity="0.75"/>
<line x1="596.76" y1="48.1" x2="596.76" y2="55.9" stroke="#000" stroke-width="0.7" stroke-opacity="0.75"/>
<line x1="595.37" y1="48.1" x2="598.16" y2="48.1" stroke="#000" stroke-width="0.7" stroke-opacity="0.75"/>
<line x1="595.37" y1="55.9" x2="598.16" y2="55.9" stroke="#000" stroke-width="0.7" stroke-opacity="0.75"/>
<line x1="607.5" y1="46.7" x2="607.5" y2="55.9" stroke="#000" stroke-width="0.7" stroke-opacity="0.75"/>
<line x1="606.1" y1="46.7" x2="608.9" y2="46.7" stroke="#000" stroke-width="0.7" stroke-opacity="0.75"/>
<line x1="606.1" y1="55.9" x2="608.9" y2="55.9" stroke="#000" stroke-width="0.7" stroke-opacity="0.75"/>
<line x1="618.23" y1="48.3" x2="618.23" y2="57.5" stroke="#000" stroke-width="0.7" stroke-opacity="0.75"/>
<line x1="616.83" y1="48.3" x2="619.63" y2="48.3" stroke="#000" stroke-width="0.7" stroke-opacity="0.75"/>
<line x1="616.83" y1="57.5" x2="619.63" y2="57.5" stroke="#000" stroke-width="0.7" stroke-opacity="0.75"/>
<line x1="628.96" y1="55.9" x2="628.96" y2="61.1" stroke="#000" stroke-width="0.7" stroke-opacity="0.75"/>
<line x1="627.56" y1="55.9" x2="630.36" y2="55.9" stroke="#000" stroke-width="0.7" stroke-opacity="0.75"/>
<line x1="627.56" y1="61.1" x2="630.36" y2="61.1" stroke="#000" stroke-width="0.7" stroke-opacity="0.75"/>
<line x1="639.7" y1="46.8" x2="639.7" y2="60.2" stroke="#000" stroke-width="0.7" stroke-opacity="0.75"/>
<line x1="638.3" y1="46.8" x2="641.1" y2="46.8" stroke="#000" stroke-width="0.7" stroke-opacity="0.75"/>
<line x1="638.3" y1="60.2" x2="641.1" y2="60.2" stroke="#000" stroke-width="0.7" stroke-opacity="0.75"/>
<line x1="650.43" y1="55.5" x2="650.43" y2="65.7" stroke="#000" stroke-width="0.7" stroke-opacity="0.75"/>
<line x1="649.03" y1="55.5" x2="651.83" y2="55.5" stroke="#000" stroke-width="0.7" stroke-opacity="0.75"/>
<line x1="649.03" y1="65.7" x2="651.83" y2="65.7" stroke="#000" stroke-width="0.7" stroke-opacity="0.75"/>
<line x1="661.16" y1="52.7" x2="661.16" y2="63.5" stroke="#000" stroke-width="0.7" stroke-opacity="0.75"/>
<line x1="659.76" y1="52.7" x2="662.56" y2="52.7" stroke="#000" stroke-width="0.7" stroke-opacity="0.75"/>
<line x1="659.76" y1="63.5" x2="662.56" y2="63.5" stroke="#000" stroke-width="0.7" stroke-opacity="0.75"/>
<line x1="671.9" y1="53.5" x2="671.9" y2="60.3" stroke="#000" stroke-width="0.7" stroke-opacity="0.75"/>
<line x1="670.5" y1="53.5" x2="673.3" y2="53.5" stroke="#000" stroke-width="0.7" stroke-opacity="0.75"/>
<line x1="670.5" y1="60.3" x2="673.3" y2="60.3" stroke="#000" stroke-width="0.7" stroke-opacity="0.75"/>
<circle cx="510.9" cy="42.6" r="1.4" fill="#000"/>
<circle cx="521.63" cy="37.1" r="1.4" fill="#000"/>
<circle cx="532.37" cy="38.8" r="1.4" fill="#000"/>
<circle cx="543.1" cy="38" r="1.4" fill="#000"/>
<circle cx="553.83" cy="51.3" r="1.4" fill="#000"/>
<circle cx="564.57" cy="55" r="1.4" fill="#000"/>
<circle cx="575.3" cy="49.8" r="1.4" fill="#000"/>
<circle cx="586.03" cy="50.4" r="1.4" fill="#000"/>
<circle cx="596.76" cy="52" r="1.4" fill="#000"/>
<circle cx="607.5" cy="51.3" r="1.4" fill="#000"/>
<circle cx="618.23" cy="52.9" r="1.4" fill="#000"/>
<circle cx="628.96" cy="58.5" r="1.4" fill="#000"/>
<circle cx="639.7" cy="53.5" r="1.4" fill="#000"/>
<circle cx="650.43" cy="60.6" r="1.4" fill="#000"/>
<circle cx="661.16" cy="58.1" r="1.4" fill="#000"/>
<circle cx="671.9" cy="56.9" r="1.4" fill="#000"/>
<line x1="612.6" y1="128.4" x2="625.6" y2="128.4" stroke="#000" stroke-width="0.8"/>
<circle cx="619.1" cy="128.4" r="1.4" fill="#000"/>
<text x="632.7" y="130.6" font-size="6.7" font-weight="normal" text-anchor="start" fill="#1a1a1a" stroke="#1a1a1a" stroke-width="0.15">Vehicle</text>
<line x1="612.6" y1="134.3" x2="625.6" y2="134.3" stroke="#ff0000" stroke-width="0.8"/>
<circle cx="619.1" cy="134.3" r="1.4" fill="#ff0000"/>
<text x="632.7" y="136.5" font-size="6.7" font-weight="normal" text-anchor="start" fill="#1a1a1a" stroke="#1a1a1a" stroke-width="0.15">Capsinoid</text>
<path d="M665.7 125.2 V135.3" fill="none" stroke="#444" stroke-width="0.8"/><circle cx="670.6" cy="130.9" r="1.15"/><circle cx="675.5" cy="130.9" r="1.15"/><circle cx="680.4" cy="130.9" r="1.15"/>
<line x1="35" y1="210.88" x2="203" y2="210.88" stroke="#444" stroke-width="1.05" stroke-dasharray="1.1 2.48"/>
<line x1="73.3" y1="201.5" x2="73.3" y2="303.5" stroke="#4646ff" stroke-width="0.85" stroke-dasharray="1.2 0.9"/>
<text x="50.1" y="198.9" font-size="6.27" font-weight="normal" text-anchor="start" fill="#3333ff">IP administration</text>
<line x1="33" y1="188.35" x2="33" y2="304.1" stroke="#000" stroke-width="1.2"/>
<line x1="32.4" y1="303.5" x2="205" y2="303.5" stroke="#000" stroke-width="1.2"/>
<line x1="28.8" y1="188.85" x2="33" y2="188.85" stroke="#000" stroke-width="1.2"/>
<text x="22.13" y="191.79" font-size="8.4" font-weight="bold" fill="#000">&#8199;</text>
<path transform="translate(22.13 191.79) scale(0.00410 -0.00410)" d="M478 0V1170L140 959V1180L493 1409H759V0Z" fill="#000"/>
<line x1="28.8" y1="210.88" x2="33" y2="210.88" stroke="#000" stroke-width="1.2"/>
<text x="22.13" y="213.82" font-size="8.4" font-weight="bold" fill="#000">0</text>
<line x1="28.8" y1="232.91" x2="33" y2="232.91" stroke="#000" stroke-width="1.2"/>
<text x="19.33" y="235.85" font-size="8.4" font-weight="bold" fill="#000">-&#8199;</text>
<path transform="translate(22.13 235.85) scale(0.00410 -0.00410)" d="M478 0V1170L140 959V1180L493 1409H759V0Z" fill="#000"/>
<line x1="28.8" y1="254.94" x2="33" y2="254.94" stroke="#000" stroke-width="1.2"/>
<text x="19.33" y="257.88" font-size="8.4" font-weight="bold" fill="#000">-2</text>
<line x1="28.8" y1="276.97" x2="33" y2="276.97" stroke="#000" stroke-width="1.2"/>
<text x="19.33" y="279.91" font-size="8.4" font-weight="bold" fill="#000">-3</text>
<line x1="28.8" y1="299" x2="33" y2="299" stroke="#000" stroke-width="1.2"/>
<text x="19.33" y="301.94" font-size="8.4" font-weight="bold" fill="#000">-4</text>
<line x1="42.92" y1="303.5" x2="42.92" y2="308.8" stroke="#000" stroke-width="1.3"/>
<text x="36.85" y="317.8" font-size="8.4" font-weight="bold" fill="#000">-30</text>
<line x1="53.05" y1="303.5" x2="53.05" y2="306.9" stroke="#000" stroke-width="1.1"/>
<line x1="63.17" y1="303.5" x2="63.17" y2="306.9" stroke="#000" stroke-width="1.1"/>
<line x1="73.3" y1="303.5" x2="73.3" y2="308.8" stroke="#000" stroke-width="1.3"/>
<text x="70.96" y="317.8" font-size="8.4" font-weight="bold" fill="#000">0</text>
<line x1="83.42" y1="303.5" x2="83.42" y2="306.9" stroke="#000" stroke-width="1.1"/>
<line x1="93.55" y1="303.5" x2="93.55" y2="306.9" stroke="#000" stroke-width="1.1"/>
<line x1="103.67" y1="303.5" x2="103.67" y2="308.8" stroke="#000" stroke-width="1.3"/>
<text x="99" y="317.8" font-size="8.4" font-weight="bold" fill="#000">30</text>
<line x1="113.8" y1="303.5" x2="113.8" y2="306.9" stroke="#000" stroke-width="1.1"/>
<line x1="123.92" y1="303.5" x2="123.92" y2="306.9" stroke="#000" stroke-width="1.1"/>
<line x1="134.05" y1="303.5" x2="134.05" y2="308.8" stroke="#000" stroke-width="1.3"/>
<text x="129.38" y="317.8" font-size="8.4" font-weight="bold" fill="#000">60</text>
<line x1="144.18" y1="303.5" x2="144.18" y2="306.9" stroke="#000" stroke-width="1.1"/>
<line x1="154.3" y1="303.5" x2="154.3" y2="306.9" stroke="#000" stroke-width="1.1"/>
<line x1="164.43" y1="303.5" x2="164.43" y2="308.8" stroke="#000" stroke-width="1.3"/>
<text x="159.75" y="317.8" font-size="8.4" font-weight="bold" fill="#000">90</text>
<line x1="174.55" y1="303.5" x2="174.55" y2="306.9" stroke="#000" stroke-width="1.1"/>
<line x1="184.68" y1="303.5" x2="184.68" y2="306.9" stroke="#000" stroke-width="1.1"/>
<line x1="194.8" y1="303.5" x2="194.8" y2="308.8" stroke="#000" stroke-width="1.3"/>
<text x="187.79" y="317.8" font-size="8.4" font-weight="bold" fill="#000">&#8199;20</text>
<path transform="translate(187.79 317.8) scale(0.00410 -0.00410)" d="M478 0V1170L140 959V1180L493 1409H759V0Z" fill="#000"/>
<line x1="204.93" y1="303.5" x2="204.93" y2="306.9" stroke="#000" stroke-width="1.1"/>
<text x="119" y="331.1" font-size="9.4" font-weight="bold" text-anchor="middle" fill="#000">Time (min)</text>
<text transform="translate(12 246.18) rotate(-90)" x="0" y="0" font-size="9.9" font-weight="bold" text-anchor="middle">&#916;T<tspan font-size="0.8em" dy="0.2em">b</tspan><tspan dy="-0.2em"> (&#176;C)</tspan></text>
<text x="118.6" y="183.6" font-size="11.1" font-weight="bold" text-anchor="middle" fill="#000">40mg/kg Capsinoid</text>
<polyline points="42.92,213.4 53.05,214.1 63.17,210.9 73.3,207.1 83.42,260.4 93.55,293 103.67,289.6 113.8,277.1 123.92,278.9 134.05,269.9 144.18,277.1 154.3,278.4 164.43,267.8 174.55,273.1 184.68,271.8 194.8,268.6" fill="none" stroke="#ff0000" stroke-width="0.7"/>
<line x1="42.92" y1="211.9" x2="42.92" y2="214.9" stroke="#ff0000" stroke-width="0.7" stroke-opacity="0.62"/>
<line x1="41.52" y1="211.9" x2="44.32" y2="211.9" stroke="#ff0000" stroke-width="0.7" stroke-opacity="0.62"/>
<line x1="41.52" y1="214.9" x2="44.32" y2="214.9" stroke="#ff0000" stroke-width="0.7" stroke-opacity="0.62"/>
<line x1="53.05" y1="212.9" x2="53.05" y2="215.3" stroke="#ff0000" stroke-width="0.7" stroke-opacity="0.62"/>
<line x1="51.65" y1="212.9" x2="54.45" y2="212.9" stroke="#ff0000" stroke-width="0.7" stroke-opacity="0.62"/>
<line x1="51.65" y1="215.3" x2="54.45" y2="215.3" stroke="#ff0000" stroke-width="0.7" stroke-opacity="0.62"/>
<line x1="63.17" y1="209.9" x2="63.17" y2="211.9" stroke="#ff0000" stroke-width="0.7" stroke-opacity="0.62"/>
<line x1="61.77" y1="209.9" x2="64.58" y2="209.9" stroke="#ff0000" stroke-width="0.7" stroke-opacity="0.62"/>
<line x1="61.77" y1="211.9" x2="64.58" y2="211.9" stroke="#ff0000" stroke-width="0.7" stroke-opacity="0.62"/>
<line x1="73.3" y1="204.1" x2="73.3" y2="210.1" stroke="#ff0000" stroke-width="0.7" stroke-opacity="0.62"/>
<line x1="71.9" y1="204.1" x2="74.7" y2="204.1" stroke="#ff0000" stroke-width="0.7" stroke-opacity="0.62"/>
<line x1="71.9" y1="210.1" x2="74.7" y2="210.1" stroke="#ff0000" stroke-width="0.7" stroke-opacity="0.62"/>
<line x1="83.42" y1="249.4" x2="83.42" y2="271.4" stroke="#ff0000" stroke-width="0.7" stroke-opacity="0.62"/>
<line x1="82.02" y1="249.4" x2="84.83" y2="249.4" stroke="#ff0000" stroke-width="0.7" stroke-opacity="0.62"/>
<line x1="82.02" y1="271.4" x2="84.83" y2="271.4" stroke="#ff0000" stroke-width="0.7" stroke-opacity="0.62"/>
<line x1="93.55" y1="284.6" x2="93.55" y2="301.4" stroke="#ff0000" stroke-width="0.7" stroke-opacity="0.62"/>
<line x1="92.15" y1="284.6" x2="94.95" y2="284.6" stroke="#ff0000" stroke-width="0.7" stroke-opacity="0.62"/>
<line x1="92.15" y1="301.4" x2="94.95" y2="301.4" stroke="#ff0000" stroke-width="0.7" stroke-opacity="0.62"/>
<line x1="103.67" y1="280.7" x2="103.67" y2="298.5" stroke="#ff0000" stroke-width="0.7" stroke-opacity="0.62"/>
<line x1="102.27" y1="280.7" x2="105.08" y2="280.7" stroke="#ff0000" stroke-width="0.7" stroke-opacity="0.62"/>
<line x1="102.27" y1="298.5" x2="105.08" y2="298.5" stroke="#ff0000" stroke-width="0.7" stroke-opacity="0.62"/>
<line x1="113.8" y1="268.1" x2="113.8" y2="286.1" stroke="#ff0000" stroke-width="0.7" stroke-opacity="0.62"/>
<line x1="112.4" y1="268.1" x2="115.2" y2="268.1" stroke="#ff0000" stroke-width="0.7" stroke-opacity="0.62"/>
<line x1="112.4" y1="286.1" x2="115.2" y2="286.1" stroke="#ff0000" stroke-width="0.7" stroke-opacity="0.62"/>
<line x1="123.92" y1="271.3" x2="123.92" y2="286.5" stroke="#ff0000" stroke-width="0.7" stroke-opacity="0.62"/>
<line x1="122.52" y1="271.3" x2="125.33" y2="271.3" stroke="#ff0000" stroke-width="0.7" stroke-opacity="0.62"/>
<line x1="122.52" y1="286.5" x2="125.33" y2="286.5" stroke="#ff0000" stroke-width="0.7" stroke-opacity="0.62"/>
<line x1="134.05" y1="261" x2="134.05" y2="278.8" stroke="#ff0000" stroke-width="0.7" stroke-opacity="0.62"/>
<line x1="132.65" y1="261" x2="135.45" y2="261" stroke="#ff0000" stroke-width="0.7" stroke-opacity="0.62"/>
<line x1="132.65" y1="278.8" x2="135.45" y2="278.8" stroke="#ff0000" stroke-width="0.7" stroke-opacity="0.62"/>
<line x1="144.18" y1="266.9" x2="144.18" y2="287.3" stroke="#ff0000" stroke-width="0.7" stroke-opacity="0.62"/>
<line x1="142.78" y1="266.9" x2="145.58" y2="266.9" stroke="#ff0000" stroke-width="0.7" stroke-opacity="0.62"/>
<line x1="142.78" y1="287.3" x2="145.58" y2="287.3" stroke="#ff0000" stroke-width="0.7" stroke-opacity="0.62"/>
<line x1="154.3" y1="267.8" x2="154.3" y2="289" stroke="#ff0000" stroke-width="0.7" stroke-opacity="0.62"/>
<line x1="152.9" y1="267.8" x2="155.7" y2="267.8" stroke="#ff0000" stroke-width="0.7" stroke-opacity="0.62"/>
<line x1="152.9" y1="289" x2="155.7" y2="289" stroke="#ff0000" stroke-width="0.7" stroke-opacity="0.62"/>
<line x1="164.43" y1="257.4" x2="164.43" y2="278.2" stroke="#ff0000" stroke-width="0.7" stroke-opacity="0.62"/>
<line x1="163.03" y1="257.4" x2="165.83" y2="257.4" stroke="#ff0000" stroke-width="0.7" stroke-opacity="0.62"/>
<line x1="163.03" y1="278.2" x2="165.83" y2="278.2" stroke="#ff0000" stroke-width="0.7" stroke-opacity="0.62"/>
<line x1="174.55" y1="262.5" x2="174.55" y2="283.7" stroke="#ff0000" stroke-width="0.7" stroke-opacity="0.62"/>
<line x1="173.15" y1="262.5" x2="175.95" y2="262.5" stroke="#ff0000" stroke-width="0.7" stroke-opacity="0.62"/>
<line x1="173.15" y1="283.7" x2="175.95" y2="283.7" stroke="#ff0000" stroke-width="0.7" stroke-opacity="0.62"/>
<line x1="184.68" y1="260.3" x2="184.68" y2="283.3" stroke="#ff0000" stroke-width="0.7" stroke-opacity="0.62"/>
<line x1="183.28" y1="260.3" x2="186.08" y2="260.3" stroke="#ff0000" stroke-width="0.7" stroke-opacity="0.62"/>
<line x1="183.28" y1="283.3" x2="186.08" y2="283.3" stroke="#ff0000" stroke-width="0.7" stroke-opacity="0.62"/>
<line x1="194.8" y1="261" x2="194.8" y2="276.2" stroke="#ff0000" stroke-width="0.7" stroke-opacity="0.62"/>
<line x1="193.4" y1="261" x2="196.2" y2="261" stroke="#ff0000" stroke-width="0.7" stroke-opacity="0.62"/>
<line x1="193.4" y1="276.2" x2="196.2" y2="276.2" stroke="#ff0000" stroke-width="0.7" stroke-opacity="0.62"/>
<circle cx="42.92" cy="213.4" r="1.4" fill="#ff0000"/>
<circle cx="53.05" cy="214.1" r="1.4" fill="#ff0000"/>
<circle cx="63.17" cy="210.9" r="1.4" fill="#ff0000"/>
<circle cx="73.3" cy="207.1" r="1.4" fill="#ff0000"/>
<circle cx="83.42" cy="260.4" r="1.4" fill="#ff0000"/>
<circle cx="93.55" cy="293" r="1.4" fill="#ff0000"/>
<circle cx="103.67" cy="289.6" r="1.4" fill="#ff0000"/>
<circle cx="113.8" cy="277.1" r="1.4" fill="#ff0000"/>
<circle cx="123.92" cy="278.9" r="1.4" fill="#ff0000"/>
<circle cx="134.05" cy="269.9" r="1.4" fill="#ff0000"/>
<circle cx="144.18" cy="277.1" r="1.4" fill="#ff0000"/>
<circle cx="154.3" cy="278.4" r="1.4" fill="#ff0000"/>
<circle cx="164.43" cy="267.8" r="1.4" fill="#ff0000"/>
<circle cx="174.55" cy="273.1" r="1.4" fill="#ff0000"/>
<circle cx="184.68" cy="271.8" r="1.4" fill="#ff0000"/>
<circle cx="194.8" cy="268.6" r="1.4" fill="#ff0000"/>
<polyline points="42.92,212.6 53.05,210.6 63.17,209.4 73.3,210.9 83.42,240.7 93.55,257.2 103.67,273.1 113.8,276.3 123.92,273.1 134.05,275.8 144.18,271.2 154.3,268.3 164.43,267.8 174.55,263.8 184.68,263 194.8,264.6" fill="none" stroke="#0000ff" stroke-width="0.75"/>
<line x1="42.92" y1="209.6" x2="42.92" y2="215.6" stroke="#0000ff" stroke-width="0.7" stroke-opacity="0.75"/>
<line x1="41.52" y1="209.6" x2="44.32" y2="209.6" stroke="#0000ff" stroke-width="0.7" stroke-opacity="0.75"/>
<line x1="41.52" y1="215.6" x2="44.32" y2="215.6" stroke="#0000ff" stroke-width="0.7" stroke-opacity="0.75"/>
<line x1="53.05" y1="209.6" x2="53.05" y2="211.6" stroke="#0000ff" stroke-width="0.7" stroke-opacity="0.75"/>
<line x1="51.65" y1="209.6" x2="54.45" y2="209.6" stroke="#0000ff" stroke-width="0.7" stroke-opacity="0.75"/>
<line x1="51.65" y1="211.6" x2="54.45" y2="211.6" stroke="#0000ff" stroke-width="0.7" stroke-opacity="0.75"/>
<line x1="63.17" y1="208.4" x2="63.17" y2="210.4" stroke="#0000ff" stroke-width="0.7" stroke-opacity="0.75"/>
<line x1="61.77" y1="208.4" x2="64.58" y2="208.4" stroke="#0000ff" stroke-width="0.7" stroke-opacity="0.75"/>
<line x1="61.77" y1="210.4" x2="64.58" y2="210.4" stroke="#0000ff" stroke-width="0.7" stroke-opacity="0.75"/>
<line x1="73.3" y1="209.9" x2="73.3" y2="211.9" stroke="#0000ff" stroke-width="0.7" stroke-opacity="0.75"/>
<line x1="71.9" y1="209.9" x2="74.7" y2="209.9" stroke="#0000ff" stroke-width="0.7" stroke-opacity="0.75"/>
<line x1="71.9" y1="211.9" x2="74.7" y2="211.9" stroke="#0000ff" stroke-width="0.7" stroke-opacity="0.75"/>
<line x1="83.42" y1="236.3" x2="83.42" y2="245.1" stroke="#0000ff" stroke-width="0.7" stroke-opacity="0.75"/>
<line x1="82.02" y1="236.3" x2="84.83" y2="236.3" stroke="#0000ff" stroke-width="0.7" stroke-opacity="0.75"/>
<line x1="82.02" y1="245.1" x2="84.83" y2="245.1" stroke="#0000ff" stroke-width="0.7" stroke-opacity="0.75"/>
<line x1="93.55" y1="252.4" x2="93.55" y2="262" stroke="#0000ff" stroke-width="0.7" stroke-opacity="0.75"/>
<line x1="92.15" y1="252.4" x2="94.95" y2="252.4" stroke="#0000ff" stroke-width="0.7" stroke-opacity="0.75"/>
<line x1="92.15" y1="262" x2="94.95" y2="262" stroke="#0000ff" stroke-width="0.7" stroke-opacity="0.75"/>
<line x1="103.67" y1="268.3" x2="103.67" y2="277.9" stroke="#0000ff" stroke-width="0.7" stroke-opacity="0.75"/>
<line x1="102.27" y1="268.3" x2="105.08" y2="268.3" stroke="#0000ff" stroke-width="0.7" stroke-opacity="0.75"/>
<line x1="102.27" y1="277.9" x2="105.08" y2="277.9" stroke="#0000ff" stroke-width="0.7" stroke-opacity="0.75"/>
<line x1="113.8" y1="269" x2="113.8" y2="283.6" stroke="#0000ff" stroke-width="0.7" stroke-opacity="0.75"/>
<line x1="112.4" y1="269" x2="115.2" y2="269" stroke="#0000ff" stroke-width="0.7" stroke-opacity="0.75"/>
<line x1="112.4" y1="283.6" x2="115.2" y2="283.6" stroke="#0000ff" stroke-width="0.7" stroke-opacity="0.75"/>
<line x1="123.92" y1="267.3" x2="123.92" y2="278.9" stroke="#0000ff" stroke-width="0.7" stroke-opacity="0.75"/>
<line x1="122.52" y1="267.3" x2="125.33" y2="267.3" stroke="#0000ff" stroke-width="0.7" stroke-opacity="0.75"/>
<line x1="122.52" y1="278.9" x2="125.33" y2="278.9" stroke="#0000ff" stroke-width="0.7" stroke-opacity="0.75"/>
<line x1="134.05" y1="271.8" x2="134.05" y2="279.8" stroke="#0000ff" stroke-width="0.7" stroke-opacity="0.75"/>
<line x1="132.65" y1="271.8" x2="135.45" y2="271.8" stroke="#0000ff" stroke-width="0.7" stroke-opacity="0.75"/>
<line x1="132.65" y1="279.8" x2="135.45" y2="279.8" stroke="#0000ff" stroke-width="0.7" stroke-opacity="0.75"/>
<line x1="144.18" y1="266.8" x2="144.18" y2="275.6" stroke="#0000ff" stroke-width="0.7" stroke-opacity="0.75"/>
<line x1="142.78" y1="266.8" x2="145.58" y2="266.8" stroke="#0000ff" stroke-width="0.7" stroke-opacity="0.75"/>
<line x1="142.78" y1="275.6" x2="145.58" y2="275.6" stroke="#0000ff" stroke-width="0.7" stroke-opacity="0.75"/>
<line x1="154.3" y1="263.7" x2="154.3" y2="272.9" stroke="#0000ff" stroke-width="0.7" stroke-opacity="0.75"/>
<line x1="152.9" y1="263.7" x2="155.7" y2="263.7" stroke="#0000ff" stroke-width="0.7" stroke-opacity="0.75"/>
<line x1="152.9" y1="272.9" x2="155.7" y2="272.9" stroke="#0000ff" stroke-width="0.7" stroke-opacity="0.75"/>
<line x1="164.43" y1="259.6" x2="164.43" y2="276" stroke="#0000ff" stroke-width="0.7" stroke-opacity="0.75"/>
<line x1="163.03" y1="259.6" x2="165.83" y2="259.6" stroke="#0000ff" stroke-width="0.7" stroke-opacity="0.75"/>
<line x1="163.03" y1="276" x2="165.83" y2="276" stroke="#0000ff" stroke-width="0.7" stroke-opacity="0.75"/>
<line x1="174.55" y1="257.2" x2="174.55" y2="270.4" stroke="#0000ff" stroke-width="0.7" stroke-opacity="0.75"/>
<line x1="173.15" y1="257.2" x2="175.95" y2="257.2" stroke="#0000ff" stroke-width="0.7" stroke-opacity="0.75"/>
<line x1="173.15" y1="270.4" x2="175.95" y2="270.4" stroke="#0000ff" stroke-width="0.7" stroke-opacity="0.75"/>
<line x1="184.68" y1="256.4" x2="184.68" y2="269.6" stroke="#0000ff" stroke-width="0.7" stroke-opacity="0.75"/>
<line x1="183.28" y1="256.4" x2="186.08" y2="256.4" stroke="#0000ff" stroke-width="0.7" stroke-opacity="0.75"/>
<line x1="183.28" y1="269.6" x2="186.08" y2="269.6" stroke="#0000ff" stroke-width="0.7" stroke-opacity="0.75"/>
<line x1="194.8" y1="254.9" x2="194.8" y2="274.3" stroke="#0000ff" stroke-width="0.7" stroke-opacity="0.75"/>
<line x1="193.4" y1="254.9" x2="196.2" y2="254.9" stroke="#0000ff" stroke-width="0.7" stroke-opacity="0.75"/>
<line x1="193.4" y1="274.3" x2="196.2" y2="274.3" stroke="#0000ff" stroke-width="0.7" stroke-opacity="0.75"/>
<circle cx="42.92" cy="212.6" r="1.4" fill="#0000ff"/>
<circle cx="53.05" cy="210.6" r="1.4" fill="#0000ff"/>
<circle cx="63.17" cy="209.4" r="1.4" fill="#0000ff"/>
<circle cx="73.3" cy="210.9" r="1.4" fill="#0000ff"/>
<circle cx="83.42" cy="240.7" r="1.4" fill="#0000ff"/>
<circle cx="93.55" cy="257.2" r="1.4" fill="#0000ff"/>
<circle cx="103.67" cy="273.1" r="1.4" fill="#0000ff"/>
<circle cx="113.8" cy="276.3" r="1.4" fill="#0000ff"/>
<circle cx="123.92" cy="273.1" r="1.4" fill="#0000ff"/>
<circle cx="134.05" cy="275.8" r="1.4" fill="#0000ff"/>
<circle cx="144.18" cy="271.2" r="1.4" fill="#0000ff"/>
<circle cx="154.3" cy="268.3" r="1.4" fill="#0000ff"/>
<circle cx="164.43" cy="267.8" r="1.4" fill="#0000ff"/>
<circle cx="174.55" cy="263.8" r="1.4" fill="#0000ff"/>
<circle cx="184.68" cy="263" r="1.4" fill="#0000ff"/>
<circle cx="194.8" cy="264.6" r="1.4" fill="#0000ff"/>
<line x1="164.3" y1="295.4" x2="176.2" y2="295.4" stroke="#0000ff" stroke-width="0.8"/>
<circle cx="170.25" cy="295.4" r="1.4" fill="#0000ff"/>
<text x="183" y="297.6" font-size="6.5" font-weight="normal" text-anchor="start" fill="#1a1a1a" stroke="#1a1a1a" stroke-width="0.15">Male</text>
<line x1="164.3" y1="300.6" x2="176.2" y2="300.6" stroke="#ff0000" stroke-width="0.8"/>
<circle cx="170.25" cy="300.6" r="1.4" fill="#ff0000"/>
<text x="183" y="302.8" font-size="6.5" font-weight="normal" text-anchor="start" fill="#1a1a1a" stroke="#1a1a1a" stroke-width="0.15">Female</text>
<line x1="507.1" y1="216.48" x2="676" y2="216.48" stroke="#444" stroke-width="1.05" stroke-dasharray="1.1 2.48"/>
<line x1="545.3" y1="205.5" x2="545.3" y2="308.45" stroke="#4646ff" stroke-width="0.85" stroke-dasharray="1.2 0.9"/>
<text x="523.7" y="202.8" font-size="6.27" font-weight="normal" text-anchor="start" fill="#3333ff">IP administration</text>
<line x1="505.1" y1="193" x2="505.1" y2="309.05" stroke="#000" stroke-width="1.2"/>
<line x1="504.5" y1="308.45" x2="677.1" y2="308.45" stroke="#000" stroke-width="1.2"/>
<line x1="500.9" y1="193.5" x2="505.1" y2="193.5" stroke="#000" stroke-width="1.2"/>
<text x="494.23" y="196.44" font-size="8.4" font-weight="bold" fill="#000">&#8199;</text>
<path transform="translate(494.23 196.44) scale(0.00410 -0.00410)" d="M478 0V1170L140 959V1180L493 1409H759V0Z" fill="#000"/>
<line x1="500.9" y1="216.48" x2="505.1" y2="216.48" stroke="#000" stroke-width="1.2"/>
<text x="494.23" y="219.42" font-size="8.4" font-weight="bold" fill="#000">0</text>
<line x1="500.9" y1="239.46" x2="505.1" y2="239.46" stroke="#000" stroke-width="1.2"/>
<text x="491.43" y="242.4" font-size="8.4" font-weight="bold" fill="#000">-&#8199;</text>
<path transform="translate(494.23 242.4) scale(0.00410 -0.00410)" d="M478 0V1170L140 959V1180L493 1409H759V0Z" fill="#000"/>
<line x1="500.9" y1="262.44" x2="505.1" y2="262.44" stroke="#000" stroke-width="1.2"/>
<text x="491.43" y="265.38" font-size="8.4" font-weight="bold" fill="#000">-2</text>
<line x1="500.9" y1="285.42" x2="505.1" y2="285.42" stroke="#000" stroke-width="1.2"/>
<text x="491.43" y="288.36" font-size="8.4" font-weight="bold" fill="#000">-3</text>
<line x1="500.9" y1="308.4" x2="505.1" y2="308.4" stroke="#000" stroke-width="1.2"/>
<text x="491.43" y="311.34" font-size="8.4" font-weight="bold" fill="#000">-4</text>
<line x1="514.94" y1="308.45" x2="514.94" y2="313.75" stroke="#000" stroke-width="1.3"/>
<text x="508.87" y="322.75" font-size="8.4" font-weight="bold" fill="#000">-30</text>
<line x1="525.06" y1="308.45" x2="525.06" y2="311.85" stroke="#000" stroke-width="1.1"/>
<line x1="535.18" y1="308.45" x2="535.18" y2="311.85" stroke="#000" stroke-width="1.1"/>
<line x1="545.3" y1="308.45" x2="545.3" y2="313.75" stroke="#000" stroke-width="1.3"/>
<text x="542.96" y="322.75" font-size="8.4" font-weight="bold" fill="#000">0</text>
<line x1="555.42" y1="308.45" x2="555.42" y2="311.85" stroke="#000" stroke-width="1.1"/>
<line x1="565.54" y1="308.45" x2="565.54" y2="311.85" stroke="#000" stroke-width="1.1"/>
<line x1="575.66" y1="308.45" x2="575.66" y2="313.75" stroke="#000" stroke-width="1.3"/>
<text x="570.99" y="322.75" font-size="8.4" font-weight="bold" fill="#000">30</text>
<line x1="585.78" y1="308.45" x2="585.78" y2="311.85" stroke="#000" stroke-width="1.1"/>
<line x1="595.9" y1="308.45" x2="595.9" y2="311.85" stroke="#000" stroke-width="1.1"/>
<line x1="606.02" y1="308.45" x2="606.02" y2="313.75" stroke="#000" stroke-width="1.3"/>
<text x="601.35" y="322.75" font-size="8.4" font-weight="bold" fill="#000">60</text>
<line x1="616.14" y1="308.45" x2="616.14" y2="311.85" stroke="#000" stroke-width="1.1"/>
<line x1="626.26" y1="308.45" x2="626.26" y2="311.85" stroke="#000" stroke-width="1.1"/>
<line x1="636.38" y1="308.45" x2="636.38" y2="313.75" stroke="#000" stroke-width="1.3"/>
<text x="631.71" y="322.75" font-size="8.4" font-weight="bold" fill="#000">90</text>
<line x1="646.5" y1="308.45" x2="646.5" y2="311.85" stroke="#000" stroke-width="1.1"/>
<line x1="656.62" y1="308.45" x2="656.62" y2="311.85" stroke="#000" stroke-width="1.1"/>
<line x1="666.74" y1="308.45" x2="666.74" y2="313.75" stroke="#000" stroke-width="1.3"/>
<text x="659.73" y="322.75" font-size="8.4" font-weight="bold" fill="#000">&#8199;20</text>
<path transform="translate(659.73 322.75) scale(0.00410 -0.00410)" d="M478 0V1170L140 959V1180L493 1409H759V0Z" fill="#000"/>
<line x1="676.86" y1="308.45" x2="676.86" y2="311.85" stroke="#000" stroke-width="1.1"/>
<text x="591.1" y="336.05" font-size="9.4" font-weight="bold" text-anchor="middle" fill="#000">Time (min)</text>
<text transform="translate(483.2 250.97) rotate(-90)" x="0" y="0" font-size="9.9" font-weight="bold" text-anchor="middle">&#916;T<tspan font-size="0.8em" dy="0.2em">b</tspan><tspan dy="-0.2em"> (&#176;C)</tspan></text>
<text x="591.4" y="160" font-size="11.7" font-weight="bold" text-anchor="middle" fill="#000"></text>
<polyline points="514.94,218.9 525.06,217.6 535.18,215.6 545.3,214.4 555.42,257.7 565.54,283.4 575.66,289.6 585.78,284.9 595.9,284.6 606.02,280.9 616.14,282.4 626.26,281.5 636.38,276.3 646.5,276.9 656.62,275.6 666.74,275" fill="none" stroke="#ff0000" stroke-width="0.7"/>
<line x1="514.94" y1="217.4" x2="514.94" y2="220.4" stroke="#ff0000" stroke-width="0.7" stroke-opacity="0.62"/>
<line x1="513.54" y1="217.4" x2="516.34" y2="217.4" stroke="#ff0000" stroke-width="0.7" stroke-opacity="0.62"/>
<line x1="513.54" y1="220.4" x2="516.34" y2="220.4" stroke="#ff0000" stroke-width="0.7" stroke-opacity="0.62"/>
<line x1="525.06" y1="216.6" x2="525.06" y2="218.6" stroke="#ff0000" stroke-width="0.7" stroke-opacity="0.62"/>
<line x1="523.66" y1="216.6" x2="526.46" y2="216.6" stroke="#ff0000" stroke-width="0.7" stroke-opacity="0.62"/>
<line x1="523.66" y1="218.6" x2="526.46" y2="218.6" stroke="#ff0000" stroke-width="0.7" stroke-opacity="0.62"/>
<line x1="535.18" y1="214.6" x2="535.18" y2="216.6" stroke="#ff0000" stroke-width="0.7" stroke-opacity="0.62"/>
<line x1="533.78" y1="214.6" x2="536.58" y2="214.6" stroke="#ff0000" stroke-width="0.7" stroke-opacity="0.62"/>
<line x1="533.78" y1="216.6" x2="536.58" y2="216.6" stroke="#ff0000" stroke-width="0.7" stroke-opacity="0.62"/>
<line x1="545.3" y1="212.4" x2="545.3" y2="216.4" stroke="#ff0000" stroke-width="0.7" stroke-opacity="0.62"/>
<line x1="543.9" y1="212.4" x2="546.7" y2="212.4" stroke="#ff0000" stroke-width="0.7" stroke-opacity="0.62"/>
<line x1="543.9" y1="216.4" x2="546.7" y2="216.4" stroke="#ff0000" stroke-width="0.7" stroke-opacity="0.62"/>
<line x1="555.42" y1="251.2" x2="555.42" y2="264.2" stroke="#ff0000" stroke-width="0.7" stroke-opacity="0.62"/>
<line x1="554.02" y1="251.2" x2="556.82" y2="251.2" stroke="#ff0000" stroke-width="0.7" stroke-opacity="0.62"/>
<line x1="554.02" y1="264.2" x2="556.82" y2="264.2" stroke="#ff0000" stroke-width="0.7" stroke-opacity="0.62"/>
<line x1="565.54" y1="273.6" x2="565.54" y2="293.2" stroke="#ff0000" stroke-width="0.7" stroke-opacity="0.62"/>
<line x1="564.14" y1="273.6" x2="566.94" y2="273.6" stroke="#ff0000" stroke-width="0.7" stroke-opacity="0.62"/>
<line x1="564.14" y1="293.2" x2="566.94" y2="293.2" stroke="#ff0000" stroke-width="0.7" stroke-opacity="0.62"/>
<line x1="575.66" y1="283.7" x2="575.66" y2="295.5" stroke="#ff0000" stroke-width="0.7" stroke-opacity="0.62"/>
<line x1="574.26" y1="283.7" x2="577.06" y2="283.7" stroke="#ff0000" stroke-width="0.7" stroke-opacity="0.62"/>
<line x1="574.26" y1="295.5" x2="577.06" y2="295.5" stroke="#ff0000" stroke-width="0.7" stroke-opacity="0.62"/>
<line x1="585.78" y1="278.7" x2="585.78" y2="291.1" stroke="#ff0000" stroke-width="0.7" stroke-opacity="0.62"/>
<line x1="584.38" y1="278.7" x2="587.18" y2="278.7" stroke="#ff0000" stroke-width="0.7" stroke-opacity="0.62"/>
<line x1="584.38" y1="291.1" x2="587.18" y2="291.1" stroke="#ff0000" stroke-width="0.7" stroke-opacity="0.62"/>
<line x1="595.9" y1="279.2" x2="595.9" y2="290" stroke="#ff0000" stroke-width="0.7" stroke-opacity="0.62"/>
<line x1="594.5" y1="279.2" x2="597.3" y2="279.2" stroke="#ff0000" stroke-width="0.7" stroke-opacity="0.62"/>
<line x1="594.5" y1="290" x2="597.3" y2="290" stroke="#ff0000" stroke-width="0.7" stroke-opacity="0.62"/>
<line x1="606.02" y1="274.7" x2="606.02" y2="287.1" stroke="#ff0000" stroke-width="0.7" stroke-opacity="0.62"/>
<line x1="604.62" y1="274.7" x2="607.42" y2="274.7" stroke="#ff0000" stroke-width="0.7" stroke-opacity="0.62"/>
<line x1="604.62" y1="287.1" x2="607.42" y2="287.1" stroke="#ff0000" stroke-width="0.7" stroke-opacity="0.62"/>
<line x1="616.14" y1="276.5" x2="616.14" y2="288.3" stroke="#ff0000" stroke-width="0.7" stroke-opacity="0.62"/>
<line x1="614.74" y1="276.5" x2="617.54" y2="276.5" stroke="#ff0000" stroke-width="0.7" stroke-opacity="0.62"/>
<line x1="614.74" y1="288.3" x2="617.54" y2="288.3" stroke="#ff0000" stroke-width="0.7" stroke-opacity="0.62"/>
<line x1="626.26" y1="275.6" x2="626.26" y2="287.4" stroke="#ff0000" stroke-width="0.7" stroke-opacity="0.62"/>
<line x1="624.86" y1="275.6" x2="627.66" y2="275.6" stroke="#ff0000" stroke-width="0.7" stroke-opacity="0.62"/>
<line x1="624.86" y1="287.4" x2="627.66" y2="287.4" stroke="#ff0000" stroke-width="0.7" stroke-opacity="0.62"/>
<line x1="636.38" y1="270.1" x2="636.38" y2="282.5" stroke="#ff0000" stroke-width="0.7" stroke-opacity="0.62"/>
<line x1="634.98" y1="270.1" x2="637.78" y2="270.1" stroke="#ff0000" stroke-width="0.7" stroke-opacity="0.62"/>
<line x1="634.98" y1="282.5" x2="637.78" y2="282.5" stroke="#ff0000" stroke-width="0.7" stroke-opacity="0.62"/>
<line x1="646.5" y1="269.3" x2="646.5" y2="284.5" stroke="#ff0000" stroke-width="0.7" stroke-opacity="0.62"/>
<line x1="645.1" y1="269.3" x2="647.9" y2="269.3" stroke="#ff0000" stroke-width="0.7" stroke-opacity="0.62"/>
<line x1="645.1" y1="284.5" x2="647.9" y2="284.5" stroke="#ff0000" stroke-width="0.7" stroke-opacity="0.62"/>
<line x1="656.62" y1="268.3" x2="656.62" y2="282.9" stroke="#ff0000" stroke-width="0.7" stroke-opacity="0.62"/>
<line x1="655.22" y1="268.3" x2="658.02" y2="268.3" stroke="#ff0000" stroke-width="0.7" stroke-opacity="0.62"/>
<line x1="655.22" y1="282.9" x2="658.02" y2="282.9" stroke="#ff0000" stroke-width="0.7" stroke-opacity="0.62"/>
<line x1="666.74" y1="268.3" x2="666.74" y2="281.7" stroke="#ff0000" stroke-width="0.7" stroke-opacity="0.62"/>
<line x1="665.34" y1="268.3" x2="668.14" y2="268.3" stroke="#ff0000" stroke-width="0.7" stroke-opacity="0.62"/>
<line x1="665.34" y1="281.7" x2="668.14" y2="281.7" stroke="#ff0000" stroke-width="0.7" stroke-opacity="0.62"/>
<circle cx="514.94" cy="218.9" r="1.4" fill="#ff0000"/>
<circle cx="525.06" cy="217.6" r="1.4" fill="#ff0000"/>
<circle cx="535.18" cy="215.6" r="1.4" fill="#ff0000"/>
<circle cx="545.3" cy="214.4" r="1.4" fill="#ff0000"/>
<circle cx="555.42" cy="257.7" r="1.4" fill="#ff0000"/>
<circle cx="565.54" cy="283.4" r="1.4" fill="#ff0000"/>
<circle cx="575.66" cy="289.6" r="1.4" fill="#ff0000"/>
<circle cx="585.78" cy="284.9" r="1.4" fill="#ff0000"/>
<circle cx="595.9" cy="284.6" r="1.4" fill="#ff0000"/>
<circle cx="606.02" cy="280.9" r="1.4" fill="#ff0000"/>
<circle cx="616.14" cy="282.4" r="1.4" fill="#ff0000"/>
<circle cx="626.26" cy="281.5" r="1.4" fill="#ff0000"/>
<circle cx="636.38" cy="276.3" r="1.4" fill="#ff0000"/>
<circle cx="646.5" cy="276.9" r="1.4" fill="#ff0000"/>
<circle cx="656.62" cy="275.6" r="1.4" fill="#ff0000"/>
<circle cx="666.74" cy="275" r="1.4" fill="#ff0000"/>
<polyline points="514.94,216.4 525.06,216.9 535.18,215.6 545.3,218.1 555.42,244.7 565.54,267 575.66,273.8 585.78,271.6 595.9,267.9 606.02,267 616.14,260.8 626.26,259.2 636.38,254 646.5,253.6 656.62,250.5 666.74,250.8" fill="none" stroke="#000" stroke-width="0.75"/>
<line x1="514.94" y1="214.9" x2="514.94" y2="217.9" stroke="#000" stroke-width="0.7" stroke-opacity="0.75"/>
<line x1="513.54" y1="214.9" x2="516.34" y2="214.9" stroke="#000" stroke-width="0.7" stroke-opacity="0.75"/>
<line x1="513.54" y1="217.9" x2="516.34" y2="217.9" stroke="#000" stroke-width="0.7" stroke-opacity="0.75"/>
<line x1="525.06" y1="215.9" x2="525.06" y2="217.9" stroke="#000" stroke-width="0.7" stroke-opacity="0.75"/>
<line x1="523.66" y1="215.9" x2="526.46" y2="215.9" stroke="#000" stroke-width="0.7" stroke-opacity="0.75"/>
<line x1="523.66" y1="217.9" x2="526.46" y2="217.9" stroke="#000" stroke-width="0.7" stroke-opacity="0.75"/>
<line x1="535.18" y1="214.6" x2="535.18" y2="216.6" stroke="#000" stroke-width="0.7" stroke-opacity="0.75"/>
<line x1="533.78" y1="214.6" x2="536.58" y2="214.6" stroke="#000" stroke-width="0.7" stroke-opacity="0.75"/>
<line x1="533.78" y1="216.6" x2="536.58" y2="216.6" stroke="#000" stroke-width="0.7" stroke-opacity="0.75"/>
<line x1="545.3" y1="216.6" x2="545.3" y2="219.6" stroke="#000" stroke-width="0.7" stroke-opacity="0.75"/>
<line x1="543.9" y1="216.6" x2="546.7" y2="216.6" stroke="#000" stroke-width="0.7" stroke-opacity="0.75"/>
<line x1="543.9" y1="219.6" x2="546.7" y2="219.6" stroke="#000" stroke-width="0.7" stroke-opacity="0.75"/>
<line x1="555.42" y1="241.4" x2="555.42" y2="248" stroke="#000" stroke-width="0.7" stroke-opacity="0.75"/>
<line x1="554.02" y1="241.4" x2="556.82" y2="241.4" stroke="#000" stroke-width="0.7" stroke-opacity="0.75"/>
<line x1="554.02" y1="248" x2="556.82" y2="248" stroke="#000" stroke-width="0.7" stroke-opacity="0.75"/>
<line x1="565.54" y1="263.3" x2="565.54" y2="270.7" stroke="#000" stroke-width="0.7" stroke-opacity="0.75"/>
<line x1="564.14" y1="263.3" x2="566.94" y2="263.3" stroke="#000" stroke-width="0.7" stroke-opacity="0.75"/>
<line x1="564.14" y1="270.7" x2="566.94" y2="270.7" stroke="#000" stroke-width="0.7" stroke-opacity="0.75"/>
<line x1="575.66" y1="270.2" x2="575.66" y2="277.4" stroke="#000" stroke-width="0.7" stroke-opacity="0.75"/>
<line x1="574.26" y1="270.2" x2="577.06" y2="270.2" stroke="#000" stroke-width="0.7" stroke-opacity="0.75"/>
<line x1="574.26" y1="277.4" x2="577.06" y2="277.4" stroke="#000" stroke-width="0.7" stroke-opacity="0.75"/>
<line x1="585.78" y1="267" x2="585.78" y2="276.2" stroke="#000" stroke-width="0.7" stroke-opacity="0.75"/>
<line x1="584.38" y1="267" x2="587.18" y2="267" stroke="#000" stroke-width="0.7" stroke-opacity="0.75"/>
<line x1="584.38" y1="276.2" x2="587.18" y2="276.2" stroke="#000" stroke-width="0.7" stroke-opacity="0.75"/>
<line x1="595.9" y1="263.6" x2="595.9" y2="272.2" stroke="#000" stroke-width="0.7" stroke-opacity="0.75"/>
<line x1="594.5" y1="263.6" x2="597.3" y2="263.6" stroke="#000" stroke-width="0.7" stroke-opacity="0.75"/>
<line x1="594.5" y1="272.2" x2="597.3" y2="272.2" stroke="#000" stroke-width="0.7" stroke-opacity="0.75"/>
<line x1="606.02" y1="261.9" x2="606.02" y2="272.1" stroke="#000" stroke-width="0.7" stroke-opacity="0.75"/>
<line x1="604.62" y1="261.9" x2="607.42" y2="261.9" stroke="#000" stroke-width="0.7" stroke-opacity="0.75"/>
<line x1="604.62" y1="272.1" x2="607.42" y2="272.1" stroke="#000" stroke-width="0.7" stroke-opacity="0.75"/>
<line x1="616.14" y1="255.7" x2="616.14" y2="265.9" stroke="#000" stroke-width="0.7" stroke-opacity="0.75"/>
<line x1="614.74" y1="255.7" x2="617.54" y2="255.7" stroke="#000" stroke-width="0.7" stroke-opacity="0.75"/>
<line x1="614.74" y1="265.9" x2="617.54" y2="265.9" stroke="#000" stroke-width="0.7" stroke-opacity="0.75"/>
<line x1="626.26" y1="253.9" x2="626.26" y2="264.5" stroke="#000" stroke-width="0.7" stroke-opacity="0.75"/>
<line x1="624.86" y1="253.9" x2="627.66" y2="253.9" stroke="#000" stroke-width="0.7" stroke-opacity="0.75"/>
<line x1="624.86" y1="264.5" x2="627.66" y2="264.5" stroke="#000" stroke-width="0.7" stroke-opacity="0.75"/>
<line x1="636.38" y1="248.9" x2="636.38" y2="259.1" stroke="#000" stroke-width="0.7" stroke-opacity="0.75"/>
<line x1="634.98" y1="248.9" x2="637.78" y2="248.9" stroke="#000" stroke-width="0.7" stroke-opacity="0.75"/>
<line x1="634.98" y1="259.1" x2="637.78" y2="259.1" stroke="#000" stroke-width="0.7" stroke-opacity="0.75"/>
<line x1="646.5" y1="248.2" x2="646.5" y2="259" stroke="#000" stroke-width="0.7" stroke-opacity="0.75"/>
<line x1="645.1" y1="248.2" x2="647.9" y2="248.2" stroke="#000" stroke-width="0.7" stroke-opacity="0.75"/>
<line x1="645.1" y1="259" x2="647.9" y2="259" stroke="#000" stroke-width="0.7" stroke-opacity="0.75"/>
<line x1="656.62" y1="244.8" x2="656.62" y2="256.2" stroke="#000" stroke-width="0.7" stroke-opacity="0.75"/>
<line x1="655.22" y1="244.8" x2="658.02" y2="244.8" stroke="#000" stroke-width="0.7" stroke-opacity="0.75"/>
<line x1="655.22" y1="256.2" x2="658.02" y2="256.2" stroke="#000" stroke-width="0.7" stroke-opacity="0.75"/>
<line x1="666.74" y1="244.6" x2="666.74" y2="257" stroke="#000" stroke-width="0.7" stroke-opacity="0.75"/>
<line x1="665.34" y1="244.6" x2="668.14" y2="244.6" stroke="#000" stroke-width="0.7" stroke-opacity="0.75"/>
<line x1="665.34" y1="257" x2="668.14" y2="257" stroke="#000" stroke-width="0.7" stroke-opacity="0.75"/>
<circle cx="514.94" cy="216.4" r="1.4" fill="#000"/>
<circle cx="525.06" cy="216.9" r="1.4" fill="#000"/>
<circle cx="535.18" cy="215.6" r="1.4" fill="#000"/>
<circle cx="545.3" cy="218.1" r="1.4" fill="#000"/>
<circle cx="555.42" cy="244.7" r="1.4" fill="#000"/>
<circle cx="565.54" cy="267" r="1.4" fill="#000"/>
<circle cx="575.66" cy="273.8" r="1.4" fill="#000"/>
<circle cx="585.78" cy="271.6" r="1.4" fill="#000"/>
<circle cx="595.9" cy="267.9" r="1.4" fill="#000"/>
<circle cx="606.02" cy="267" r="1.4" fill="#000"/>
<circle cx="616.14" cy="260.8" r="1.4" fill="#000"/>
<circle cx="626.26" cy="259.2" r="1.4" fill="#000"/>
<circle cx="636.38" cy="254" r="1.4" fill="#000"/>
<circle cx="646.5" cy="253.6" r="1.4" fill="#000"/>
<circle cx="656.62" cy="250.5" r="1.4" fill="#000"/>
<circle cx="666.74" cy="250.8" r="1.4" fill="#000"/>
<line x1="620.5" y1="298.5" x2="632.9" y2="298.5" stroke="#000" stroke-width="0.8"/>
<circle cx="626.7" cy="298.5" r="1.4" fill="#000"/>
<text x="639.7" y="300.7" font-size="6.7" font-weight="normal" text-anchor="start" fill="#1a1a1a" stroke="#1a1a1a" stroke-width="0.15">Young</text>
<line x1="620.5" y1="305.2" x2="632.9" y2="305.2" stroke="#ff0000" stroke-width="0.8"/>
<circle cx="626.7" cy="305.2" r="1.4" fill="#ff0000"/>
<text x="639.7" y="307.4" font-size="6.7" font-weight="normal" text-anchor="start" fill="#1a1a1a" stroke="#1a1a1a" stroke-width="0.15">Aged</text>
<path d="M659.2 298.5 H666.2 V306 H659.2" fill="none" stroke="#888" stroke-width="0.9"/><circle cx="670.3" cy="302.1" r="1.25"/><circle cx="675.1" cy="302.1" r="1.25"/>
<rect x="258.6" y="206.1" width="20.3" height="61.07" fill="#ff0000" stroke="#000" stroke-width="1.3"/>
<line x1="268.7" y1="259.5" x2="268.7" y2="275.9" stroke="#333" stroke-width="0.9"/>
<line x1="263" y1="259.5" x2="274.4" y2="259.5" stroke="#333" stroke-width="0.9"/>
<line x1="263" y1="275.9" x2="274.4" y2="275.9" stroke="#888" stroke-width="1.1"/>
<circle cx="268.7" cy="243.3" r="1.35" fill="#000"/>
<circle cx="268.7" cy="256.3" r="1.35" fill="#000"/>
<circle cx="268.7" cy="272.2" r="1.35" fill="#000"/>
<circle cx="268.7" cy="280.4" r="1.35" fill="#000"/>
<circle cx="268.7" cy="287.4" r="1.35" fill="#000"/>
<rect x="291.2" y="206.1" width="20.7" height="52.35" fill="#0000ff" stroke="#000" stroke-width="1.3"/>
<line x1="301.6" y1="254.1" x2="301.6" y2="263.5" stroke="#333" stroke-width="0.9"/>
<line x1="295.9" y1="254.1" x2="307.3" y2="254.1" stroke="#333" stroke-width="0.9"/>
<line x1="295.9" y1="263.5" x2="307.3" y2="263.5" stroke="#888" stroke-width="1.1"/>
<circle cx="301.6" cy="244.7" r="1.35" fill="#000"/>
<circle cx="301.6" cy="251.8" r="1.35" fill="#000"/>
<circle cx="301.6" cy="260.7" r="1.35" fill="#000"/>
<circle cx="298.8" cy="269.4" r="1.35" fill="#000"/>
<circle cx="303.5" cy="268.2" r="1.35" fill="#000"/>
<line x1="246.8" y1="205.5" x2="246.8" y2="321.5" stroke="#000" stroke-width="1.2"/>
<line x1="246.8" y1="206.1" x2="323" y2="206.1" stroke="#000" stroke-width="1.3"/>
<line x1="246.2" y1="320.9" x2="323.9" y2="320.9" stroke="#000" stroke-width="1.2"/>
<line x1="241.8" y1="206.1" x2="246.8" y2="206.1" stroke="#000" stroke-width="1.2"/>
<text x="235.82" y="209.11" font-size="8.6" font-weight="bold" fill="#000">0</text>
<line x1="241.8" y1="229.06" x2="246.8" y2="229.06" stroke="#000" stroke-width="1.2"/>
<text x="232.95" y="232.07" font-size="8.6" font-weight="bold" fill="#000">-&#8199;</text>
<path transform="translate(235.82 232.07) scale(0.00420 -0.00420)" d="M478 0V1170L140 959V1180L493 1409H759V0Z" fill="#000"/>
<line x1="241.8" y1="252.02" x2="246.8" y2="252.02" stroke="#000" stroke-width="1.2"/>
<text x="232.95" y="255.03" font-size="8.6" font-weight="bold" fill="#000">-2</text>
<line x1="241.8" y1="274.98" x2="246.8" y2="274.98" stroke="#000" stroke-width="1.2"/>
<text x="232.95" y="277.99" font-size="8.6" font-weight="bold" fill="#000">-3</text>
<line x1="241.8" y1="297.94" x2="246.8" y2="297.94" stroke="#000" stroke-width="1.2"/>
<text x="232.95" y="300.95" font-size="8.6" font-weight="bold" fill="#000">-4</text>
<line x1="241.8" y1="320.9" x2="246.8" y2="320.9" stroke="#000" stroke-width="1.2"/>
<text x="232.95" y="323.91" font-size="8.6" font-weight="bold" fill="#000">-5</text>
<line x1="268.4" y1="320.9" x2="268.4" y2="325.5" stroke="#000" stroke-width="1.2"/>
<text x="268.4" y="334.6" font-size="9.1" font-weight="bold" text-anchor="middle" fill="#000">Female</text>
<line x1="301.3" y1="320.9" x2="301.3" y2="325.5" stroke="#000" stroke-width="1.2"/>
<text x="301.3" y="334.6" font-size="9.1" font-weight="bold" text-anchor="middle" fill="#000">Male</text>
<text transform="translate(226 263.4) rotate(-90)" x="0" y="0" font-size="9.5" font-weight="bold" text-anchor="middle">Average &#916;T<tspan font-size="0.8em" dy="0.2em">b</tspan><tspan dy="-0.2em"> (&#176;C)</tspan></text>
<text x="234.2" y="194.7" font-size="11.15" font-weight="bold" text-anchor="start" fill="#000">40mg/kg Capsinoid</text>
<path d="M268.7 293.5 V296.4 H301.6 V275" fill="none" stroke="#222" stroke-width="1"/>
<text x="275.4" y="291.4" font-size="6.3" font-weight="normal" fill="#444">0.3880</text>
<rect x="386" y="205.4" width="20.5" height="88.82" fill="#ff0000" stroke="#000" stroke-width="1.3"/>
<line x1="396.3" y1="286.2" x2="396.3" y2="304.3" stroke="#333" stroke-width="0.9"/>
<line x1="390.6" y1="286.2" x2="402" y2="286.2" stroke="#333" stroke-width="0.9"/>
<line x1="390.6" y1="304.3" x2="402" y2="304.3" stroke="#888" stroke-width="1.1"/>
<circle cx="396.3" cy="264.2" r="1.35" fill="#000"/>
<circle cx="396.3" cy="285.7" r="1.35" fill="#000"/>
<circle cx="396.3" cy="305.4" r="1.35" fill="#000"/>
<circle cx="396.3" cy="309.6" r="1.35" fill="#000"/>
<circle cx="396.3" cy="312.2" r="1.35" fill="#000"/>
<rect x="418.9" y="205.4" width="20.7" height="72.2" fill="#0000ff" stroke="#000" stroke-width="1.3"/>
<line x1="429.1" y1="272.7" x2="429.1" y2="282.6" stroke="#333" stroke-width="0.9"/>
<line x1="423.4" y1="272.7" x2="434.8" y2="272.7" stroke="#333" stroke-width="0.9"/>
<line x1="423.4" y1="282.6" x2="434.8" y2="282.6" stroke="#888" stroke-width="1.1"/>
<circle cx="429.1" cy="263.5" r="1.35" fill="#000"/>
<circle cx="429.1" cy="272.2" r="1.35" fill="#000"/>
<circle cx="429.1" cy="287" r="1.35" fill="#000"/>
<circle cx="429.1" cy="290.1" r="1.35" fill="#000"/>
<line x1="374.4" y1="204.8" x2="374.4" y2="320.6" stroke="#000" stroke-width="1.2"/>
<line x1="374.4" y1="205.4" x2="450.8" y2="205.4" stroke="#000" stroke-width="1.3"/>
<line x1="373.8" y1="320" x2="451" y2="320" stroke="#000" stroke-width="1.2"/>
<line x1="369.4" y1="205.4" x2="374.4" y2="205.4" stroke="#000" stroke-width="1.2"/>
<text x="363.42" y="208.41" font-size="8.6" font-weight="bold" fill="#000">0</text>
<line x1="369.4" y1="228.32" x2="374.4" y2="228.32" stroke="#000" stroke-width="1.2"/>
<text x="360.55" y="231.33" font-size="8.6" font-weight="bold" fill="#000">-&#8199;</text>
<path transform="translate(363.42 231.33) scale(0.00420 -0.00420)" d="M478 0V1170L140 959V1180L493 1409H759V0Z" fill="#000"/>
<line x1="369.4" y1="251.24" x2="374.4" y2="251.24" stroke="#000" stroke-width="1.2"/>
<text x="360.55" y="254.25" font-size="8.6" font-weight="bold" fill="#000">-2</text>
<line x1="369.4" y1="274.16" x2="374.4" y2="274.16" stroke="#000" stroke-width="1.2"/>
<text x="360.55" y="277.17" font-size="8.6" font-weight="bold" fill="#000">-3</text>
<line x1="369.4" y1="297.08" x2="374.4" y2="297.08" stroke="#000" stroke-width="1.2"/>
<text x="360.55" y="300.09" font-size="8.6" font-weight="bold" fill="#000">-4</text>
<line x1="369.4" y1="320" x2="374.4" y2="320" stroke="#000" stroke-width="1.2"/>
<text x="360.55" y="323.01" font-size="8.6" font-weight="bold" fill="#000">-5</text>
<line x1="396.3" y1="320" x2="396.3" y2="324.6" stroke="#000" stroke-width="1.2"/>
<text x="396.3" y="334" font-size="9.1" font-weight="bold" text-anchor="middle" fill="#000">Female</text>
<line x1="429" y1="320" x2="429" y2="324.6" stroke="#000" stroke-width="1.2"/>
<text x="429" y="334" font-size="9.1" font-weight="bold" text-anchor="middle" fill="#000">Male</text>
<text transform="translate(352.2 262.4) rotate(-90)" x="0" y="0" font-size="9.5" font-weight="bold" text-anchor="middle">Max &#916;T<tspan font-size="0.8em" dy="0.2em">b</tspan><tspan dy="-0.2em"> (&#176;C)</tspan></text>
<text x="361.5" y="194.7" font-size="11.15" font-weight="bold" text-anchor="start" fill="#000">40mg/kg Capsinoid</text>
<path d="M396.3 315.5 V318 H429 V297" fill="none" stroke="#222" stroke-width="1"/>
<text x="402.4" y="313.6" font-size="6.3" font-weight="normal" fill="#444">0.&#8199;265</text>
<path transform="translate(407.65 313.6) scale(0.00308 -0.00308)" d="M515 0V1237L197 1010V1180L530 1409H696V0Z" fill="#444"/>
<text transform="translate(1.5 13.2) scale(0.78 1)" x="0" y="0" font-size="20.5" font-weight="normal" stroke="#000" stroke-width="0.8" clip-path="url(#clipA)">a</text>
<text transform="translate(232.5 15.4) scale(0.85 1)" x="0" y="0" font-size="20.5" font-weight="normal" stroke="#000" stroke-width="0.8">b</text>
<text transform="translate(462.7 15.8) scale(0.85 1)" x="0" y="0" font-size="20.5" font-weight="normal" stroke="#000" stroke-width="0.8">c</text>
<text transform="translate(0.5 183.3) scale(0.85 1)" x="0" y="0" font-size="20.5" font-weight="normal" stroke="#000" stroke-width="0.8">d</text>
<text transform="translate(210.2 188.6) scale(0.85 1)" x="0" y="0" font-size="20.5" font-weight="normal" stroke="#000" stroke-width="0.8">e</text>
<text transform="translate(347.55 191.7) scale(0.85 1)" x="0" y="0" font-size="20.5" font-weight="normal" stroke="#000" stroke-width="0.8">f</text>
<text transform="translate(473.4 188.4) scale(0.85 1)" x="0" y="0" font-size="20.5" font-weight="normal" stroke="#000" stroke-width="0.8">g</text>
</svg>
</body></html>
